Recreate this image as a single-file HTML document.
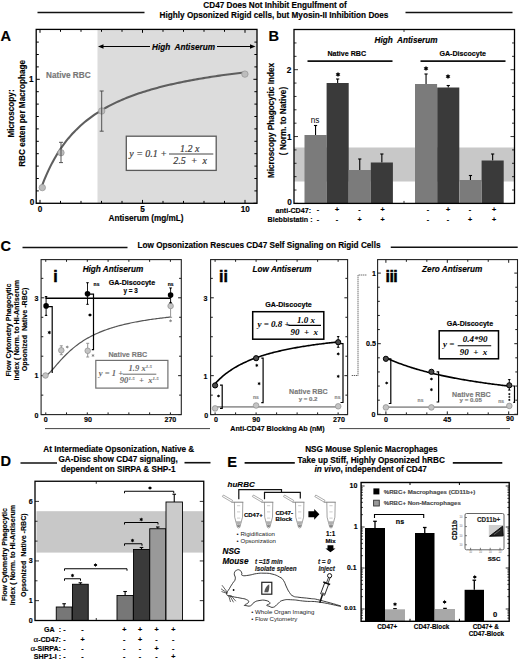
<!DOCTYPE html>
<html><head><meta charset="utf-8"><style>
html,body{margin:0;padding:0;background:#fff;width:520px;height:660px;overflow:hidden;font-family:"Liberation Sans",sans-serif;}
svg{display:block}
</style></head><body>
<svg width="520" height="660" viewBox="0 0 520 660">
<rect width="520" height="660" fill="#fff"/>
<text x="275.00" y="7.92" font-family="Liberation Sans" font-size="8.20" font-weight="bold" stroke="#000" stroke-width="0.15" fill="#000" text-anchor="middle">CD47 Does Not Inhibit Engulfment of</text>
<text x="274.00" y="17.62" font-family="Liberation Sans" font-size="8.20" font-weight="bold" stroke="#000" stroke-width="0.15" fill="#000" text-anchor="middle">Highly Opsonized Rigid cells, but Myosin-II Inhibition Does</text>
<line x1="37.50" y1="12.50" x2="144.50" y2="12.50" stroke="#111" stroke-width="1.60"/>
<line x1="405.50" y1="12.50" x2="512.50" y2="12.50" stroke="#111" stroke-width="1.60"/>
<text x="0.40" y="40.62" font-family="Liberation Sans" font-size="14.60" font-weight="bold" stroke="#000" stroke-width="0.15" fill="#000" text-anchor="start">A</text>
<rect x="97.50" y="29.40" width="159.50" height="173.90" fill="#dcdcdc" stroke="none" stroke-width="1.00"/>
<line x1="36.20" y1="203.30" x2="39.80" y2="203.30" stroke="#000" stroke-width="1.00"/>
<line x1="257.00" y1="203.30" x2="253.40" y2="203.30" stroke="#000" stroke-width="1.00"/>
<line x1="36.20" y1="190.90" x2="38.80" y2="190.90" stroke="#000" stroke-width="1.00"/>
<line x1="257.00" y1="190.90" x2="254.40" y2="190.90" stroke="#000" stroke-width="1.00"/>
<line x1="36.20" y1="178.50" x2="38.80" y2="178.50" stroke="#000" stroke-width="1.00"/>
<line x1="257.00" y1="178.50" x2="254.40" y2="178.50" stroke="#000" stroke-width="1.00"/>
<line x1="36.20" y1="166.10" x2="38.80" y2="166.10" stroke="#000" stroke-width="1.00"/>
<line x1="257.00" y1="166.10" x2="254.40" y2="166.10" stroke="#000" stroke-width="1.00"/>
<line x1="36.20" y1="153.70" x2="38.80" y2="153.70" stroke="#000" stroke-width="1.00"/>
<line x1="257.00" y1="153.70" x2="254.40" y2="153.70" stroke="#000" stroke-width="1.00"/>
<line x1="36.20" y1="141.30" x2="38.80" y2="141.30" stroke="#000" stroke-width="1.00"/>
<line x1="257.00" y1="141.30" x2="254.40" y2="141.30" stroke="#000" stroke-width="1.00"/>
<line x1="36.20" y1="128.90" x2="38.80" y2="128.90" stroke="#000" stroke-width="1.00"/>
<line x1="257.00" y1="128.90" x2="254.40" y2="128.90" stroke="#000" stroke-width="1.00"/>
<line x1="36.20" y1="116.50" x2="38.80" y2="116.50" stroke="#000" stroke-width="1.00"/>
<line x1="257.00" y1="116.50" x2="254.40" y2="116.50" stroke="#000" stroke-width="1.00"/>
<line x1="36.20" y1="104.10" x2="38.80" y2="104.10" stroke="#000" stroke-width="1.00"/>
<line x1="257.00" y1="104.10" x2="254.40" y2="104.10" stroke="#000" stroke-width="1.00"/>
<line x1="36.20" y1="91.70" x2="38.80" y2="91.70" stroke="#000" stroke-width="1.00"/>
<line x1="257.00" y1="91.70" x2="254.40" y2="91.70" stroke="#000" stroke-width="1.00"/>
<line x1="36.20" y1="79.30" x2="39.80" y2="79.30" stroke="#000" stroke-width="1.00"/>
<line x1="257.00" y1="79.30" x2="253.40" y2="79.30" stroke="#000" stroke-width="1.00"/>
<line x1="36.20" y1="66.90" x2="38.80" y2="66.90" stroke="#000" stroke-width="1.00"/>
<line x1="257.00" y1="66.90" x2="254.40" y2="66.90" stroke="#000" stroke-width="1.00"/>
<line x1="36.20" y1="54.50" x2="38.80" y2="54.50" stroke="#000" stroke-width="1.00"/>
<line x1="257.00" y1="54.50" x2="254.40" y2="54.50" stroke="#000" stroke-width="1.00"/>
<line x1="36.20" y1="42.10" x2="38.80" y2="42.10" stroke="#000" stroke-width="1.00"/>
<line x1="257.00" y1="42.10" x2="254.40" y2="42.10" stroke="#000" stroke-width="1.00"/>
<line x1="40.00" y1="203.30" x2="40.00" y2="199.90" stroke="#000" stroke-width="1.00"/>
<line x1="40.00" y1="29.40" x2="40.00" y2="32.80" stroke="#000" stroke-width="1.00"/>
<line x1="60.50" y1="203.30" x2="60.50" y2="200.90" stroke="#000" stroke-width="1.00"/>
<line x1="60.50" y1="29.40" x2="60.50" y2="31.80" stroke="#000" stroke-width="1.00"/>
<line x1="81.00" y1="203.30" x2="81.00" y2="200.90" stroke="#000" stroke-width="1.00"/>
<line x1="81.00" y1="29.40" x2="81.00" y2="31.80" stroke="#000" stroke-width="1.00"/>
<line x1="101.50" y1="203.30" x2="101.50" y2="200.90" stroke="#000" stroke-width="1.00"/>
<line x1="101.50" y1="29.40" x2="101.50" y2="31.80" stroke="#000" stroke-width="1.00"/>
<line x1="122.00" y1="203.30" x2="122.00" y2="200.90" stroke="#000" stroke-width="1.00"/>
<line x1="122.00" y1="29.40" x2="122.00" y2="31.80" stroke="#000" stroke-width="1.00"/>
<line x1="142.50" y1="203.30" x2="142.50" y2="199.90" stroke="#000" stroke-width="1.00"/>
<line x1="142.50" y1="29.40" x2="142.50" y2="32.80" stroke="#000" stroke-width="1.00"/>
<line x1="163.00" y1="203.30" x2="163.00" y2="200.90" stroke="#000" stroke-width="1.00"/>
<line x1="163.00" y1="29.40" x2="163.00" y2="31.80" stroke="#000" stroke-width="1.00"/>
<line x1="183.50" y1="203.30" x2="183.50" y2="200.90" stroke="#000" stroke-width="1.00"/>
<line x1="183.50" y1="29.40" x2="183.50" y2="31.80" stroke="#000" stroke-width="1.00"/>
<line x1="204.00" y1="203.30" x2="204.00" y2="200.90" stroke="#000" stroke-width="1.00"/>
<line x1="204.00" y1="29.40" x2="204.00" y2="31.80" stroke="#000" stroke-width="1.00"/>
<line x1="224.50" y1="203.30" x2="224.50" y2="200.90" stroke="#000" stroke-width="1.00"/>
<line x1="224.50" y1="29.40" x2="224.50" y2="31.80" stroke="#000" stroke-width="1.00"/>
<line x1="245.00" y1="203.30" x2="245.00" y2="199.90" stroke="#000" stroke-width="1.00"/>
<line x1="245.00" y1="29.40" x2="245.00" y2="32.80" stroke="#000" stroke-width="1.00"/>
<path d="M42.05 185.68 L44.07 180.45 L46.09 175.60 L48.11 171.08 L50.13 166.85 L52.15 162.89 L54.17 159.18 L56.18 155.69 L58.20 152.40 L60.22 149.30 L62.24 146.37 L64.26 143.59 L66.28 140.96 L68.30 138.46 L70.32 136.09 L72.34 133.83 L74.36 131.68 L76.38 129.63 L78.40 127.67 L80.42 125.79 L82.44 124.00 L84.45 122.28 L86.47 120.64 L88.49 119.06 L90.51 117.54 L92.53 116.08 L94.55 114.68 L96.57 113.33 L98.59 112.03 L100.61 110.78 L102.63 109.57 L104.65 108.40 L106.67 107.27 L108.69 106.18 L110.70 105.13 L112.72 104.11 L114.74 103.13 L116.76 102.17 L118.78 101.25 L120.80 100.35 L122.82 99.48 L124.84 98.64 L126.86 97.82 L128.88 97.02 L130.90 96.25 L132.92 95.50 L134.94 94.77 L136.95 94.06 L138.97 93.36 L140.99 92.69 L143.01 92.04 L145.03 91.40 L147.05 90.77 L149.07 90.17 L151.09 89.58 L153.11 89.00 L155.13 88.44 L157.15 87.89 L159.17 87.35 L161.19 86.83 L163.20 86.31 L165.22 85.81 L167.24 85.32 L169.26 84.85 L171.28 84.38 L173.30 83.92 L175.32 83.47 L177.34 83.04 L179.36 82.61 L181.38 82.19 L183.40 81.78 L185.42 81.38 L187.44 80.98 L189.46 80.60 L191.47 80.22 L193.49 79.85 L195.51 79.48 L197.53 79.13 L199.55 78.78 L201.57 78.43 L203.59 78.10 L205.61 77.77 L207.63 77.44 L209.65 77.12 L211.67 76.81 L213.69 76.50 L215.71 76.20 L217.72 75.90 L219.74 75.61 L221.76 75.33 L223.78 75.05 L225.80 74.77 L227.82 74.50 L229.84 74.23 L231.86 73.97 L233.88 73.71 L235.90 73.46 L237.92 73.21 L239.94 72.96 L241.96 72.72 L243.97 72.48" stroke="#5e5e5e" stroke-width="2.10" fill="none"/>
<circle cx="42.30" cy="187.60" r="3.20" fill="#bdbdbd" stroke="#9a9a9a" stroke-width="0.80"/>
<circle cx="61.00" cy="152.70" r="3.20" fill="#bdbdbd" stroke="#9a9a9a" stroke-width="0.80"/>
<line x1="61.00" y1="142.30" x2="61.00" y2="162.60" stroke="#444" stroke-width="0.90"/>
<line x1="59.00" y1="142.30" x2="63.00" y2="142.30" stroke="#444" stroke-width="0.90"/>
<line x1="59.00" y1="162.60" x2="63.00" y2="162.60" stroke="#444" stroke-width="0.90"/>
<circle cx="101.70" cy="111.00" r="3.20" fill="#bdbdbd" stroke="#9a9a9a" stroke-width="0.80"/>
<line x1="101.70" y1="91.00" x2="101.70" y2="131.20" stroke="#444" stroke-width="0.90"/>
<line x1="99.70" y1="91.00" x2="103.70" y2="91.00" stroke="#444" stroke-width="0.90"/>
<line x1="99.70" y1="131.20" x2="103.70" y2="131.20" stroke="#444" stroke-width="0.90"/>
<circle cx="244.90" cy="74.10" r="3.20" fill="#bdbdbd" stroke="#9a9a9a" stroke-width="0.80"/>
<rect x="36.20" y="29.40" width="220.80" height="173.90" fill="none" stroke="#000" stroke-width="1.30"/>
<text x="31.20" y="82.32" font-family="Liberation Sans" font-size="8.20" font-weight="bold" stroke="#000" stroke-width="0.15" fill="#000" text-anchor="middle">1</text>
<text x="32.00" y="205.12" font-family="Liberation Sans" font-size="8.20" font-weight="bold" stroke="#000" stroke-width="0.15" fill="#000" text-anchor="middle">0</text>
<text x="40.00" y="211.82" font-family="Liberation Sans" font-size="8.20" font-weight="bold" stroke="#000" stroke-width="0.15" fill="#000" text-anchor="middle">0</text>
<text x="142.50" y="211.82" font-family="Liberation Sans" font-size="8.20" font-weight="bold" stroke="#000" stroke-width="0.15" fill="#000" text-anchor="middle">5</text>
<text x="245.20" y="211.82" font-family="Liberation Sans" font-size="8.20" font-weight="bold" stroke="#000" stroke-width="0.15" fill="#000" text-anchor="middle">10</text>
<text x="146.00" y="220.52" font-family="Liberation Sans" font-size="8.20" font-weight="bold" stroke="#000" stroke-width="0.15" fill="#000" text-anchor="middle">Antiserum (mg/mL)</text>
<text x="46.00" y="77.82" font-family="Liberation Sans" font-size="8.20" font-weight="bold" stroke="#777" stroke-width="0.15" fill="#777" text-anchor="start">Native RBC</text>
<text x="183.50" y="49.82" font-family="Liberation Sans" font-size="8.20" font-weight="bold" font-style="italic" stroke="#000" stroke-width="0.15" fill="#000" text-anchor="middle">High&#160; Antiserum</text>
<line x1="99.00" y1="46.50" x2="150.00" y2="46.50" stroke="#000" stroke-width="1.20"/>
<line x1="217.00" y1="46.50" x2="254.00" y2="46.50" stroke="#000" stroke-width="1.20"/>
<path d="M98 46.5 L103.5 44.2 L103.5 48.8 Z" stroke="none" stroke-width="0.00" fill="#000"/>
<path d="M255.5 46.5 L250 44.2 L250 48.8 Z" stroke="none" stroke-width="0.00" fill="#000"/>
<rect x="126.30" y="136.20" width="89.90" height="34.20" fill="#fff" stroke="#5a5a5a" stroke-width="1.30"/>
<text x="129.2" y="157" font-size="10" font-family="Liberation Serif" font-style="italic" fill="#3a3a3a" stroke="#3a3a3a" stroke-width="0.2">y = 0.1 +</text>
<line x1="169.00" y1="154.00" x2="213.30" y2="154.00" stroke="#444" stroke-width="1.00"/>
<text x="189.7" y="152" font-size="10" text-anchor="middle" font-family="Liberation Serif" font-style="italic" fill="#3a3a3a" stroke="#3a3a3a" stroke-width="0.2">1.2 x</text>
<text x="190.2" y="164.2" font-size="10" text-anchor="middle" font-family="Liberation Serif" font-style="italic" fill="#3a3a3a" stroke="#3a3a3a" stroke-width="0.2">2.5&#160;&#160;+&#160;&#160;x</text>
<text x="0" y="0" transform="translate(13.72 113.50) rotate(-90)" font-family="Liberation Sans" font-size="8.20" font-weight="bold" stroke="#000" stroke-width="0.15" fill="#000" text-anchor="middle">Microscopy:</text>
<text x="0" y="0" transform="translate(24.62 113.40) rotate(-90)" font-family="Liberation Sans" font-size="8.20" font-weight="bold" stroke="#000" stroke-width="0.15" fill="#000" text-anchor="middle">RBC eaten per Macrophage</text>
<text x="268.60" y="40.62" font-family="Liberation Sans" font-size="14.60" font-weight="bold" stroke="#000" stroke-width="0.15" fill="#000" text-anchor="start">B</text>
<rect x="294.00" y="147.50" width="220.50" height="34.00" fill="#c8c8c8" stroke="none" stroke-width="1.00"/>
<line x1="315.55" y1="135.00" x2="315.55" y2="125.50" stroke="#000" stroke-width="1.10"/>
<line x1="313.95" y1="125.50" x2="317.15" y2="125.50" stroke="#000" stroke-width="1.10"/>
<rect x="304.50" y="135.00" width="22.10" height="68.40" fill="#7b7b7b" stroke="none" stroke-width="1.00"/>
<line x1="337.65" y1="83.00" x2="337.65" y2="79.00" stroke="#000" stroke-width="1.10"/>
<line x1="336.05" y1="79.00" x2="339.25" y2="79.00" stroke="#000" stroke-width="1.10"/>
<rect x="326.60" y="83.00" width="22.10" height="120.40" fill="#3a3a3a" stroke="none" stroke-width="1.00"/>
<line x1="359.75" y1="170.00" x2="359.75" y2="159.00" stroke="#000" stroke-width="1.10"/>
<line x1="358.15" y1="159.00" x2="361.35" y2="159.00" stroke="#000" stroke-width="1.10"/>
<rect x="348.70" y="170.00" width="22.10" height="33.40" fill="#7b7b7b" stroke="none" stroke-width="1.00"/>
<line x1="381.85" y1="162.50" x2="381.85" y2="154.00" stroke="#000" stroke-width="1.10"/>
<line x1="380.25" y1="154.00" x2="383.45" y2="154.00" stroke="#000" stroke-width="1.10"/>
<rect x="370.80" y="162.50" width="22.10" height="40.90" fill="#3a3a3a" stroke="none" stroke-width="1.00"/>
<line x1="426.05" y1="84.00" x2="426.05" y2="74.00" stroke="#000" stroke-width="1.10"/>
<line x1="424.45" y1="74.00" x2="427.65" y2="74.00" stroke="#000" stroke-width="1.10"/>
<rect x="415.00" y="84.00" width="22.10" height="119.40" fill="#7b7b7b" stroke="none" stroke-width="1.00"/>
<line x1="448.25" y1="87.50" x2="448.25" y2="85.50" stroke="#000" stroke-width="1.10"/>
<line x1="446.65" y1="85.50" x2="449.85" y2="85.50" stroke="#000" stroke-width="1.10"/>
<rect x="437.20" y="87.50" width="22.10" height="115.90" fill="#3a3a3a" stroke="none" stroke-width="1.00"/>
<line x1="470.45" y1="180.00" x2="470.45" y2="175.50" stroke="#000" stroke-width="1.10"/>
<line x1="468.85" y1="175.50" x2="472.05" y2="175.50" stroke="#000" stroke-width="1.10"/>
<rect x="459.40" y="180.00" width="22.10" height="23.40" fill="#7b7b7b" stroke="none" stroke-width="1.00"/>
<line x1="492.65" y1="160.50" x2="492.65" y2="154.00" stroke="#000" stroke-width="1.10"/>
<line x1="491.05" y1="154.00" x2="494.25" y2="154.00" stroke="#000" stroke-width="1.10"/>
<rect x="481.60" y="160.50" width="22.10" height="42.90" fill="#3a3a3a" stroke="none" stroke-width="1.00"/>
<line x1="294.00" y1="203.40" x2="298.00" y2="203.40" stroke="#000" stroke-width="0.80"/>
<line x1="514.50" y1="203.40" x2="510.50" y2="203.40" stroke="#000" stroke-width="0.80"/>
<line x1="294.00" y1="190.03" x2="296.50" y2="190.03" stroke="#000" stroke-width="0.80"/>
<line x1="514.50" y1="190.03" x2="512.00" y2="190.03" stroke="#000" stroke-width="0.80"/>
<line x1="294.00" y1="176.66" x2="296.50" y2="176.66" stroke="#000" stroke-width="0.80"/>
<line x1="514.50" y1="176.66" x2="512.00" y2="176.66" stroke="#000" stroke-width="0.80"/>
<line x1="294.00" y1="163.29" x2="296.50" y2="163.29" stroke="#000" stroke-width="0.80"/>
<line x1="514.50" y1="163.29" x2="512.00" y2="163.29" stroke="#000" stroke-width="0.80"/>
<line x1="294.00" y1="149.92" x2="296.50" y2="149.92" stroke="#000" stroke-width="0.80"/>
<line x1="514.50" y1="149.92" x2="512.00" y2="149.92" stroke="#000" stroke-width="0.80"/>
<line x1="294.00" y1="136.55" x2="298.00" y2="136.55" stroke="#000" stroke-width="0.80"/>
<line x1="514.50" y1="136.55" x2="510.50" y2="136.55" stroke="#000" stroke-width="0.80"/>
<line x1="294.00" y1="123.18" x2="296.50" y2="123.18" stroke="#000" stroke-width="0.80"/>
<line x1="514.50" y1="123.18" x2="512.00" y2="123.18" stroke="#000" stroke-width="0.80"/>
<line x1="294.00" y1="109.81" x2="296.50" y2="109.81" stroke="#000" stroke-width="0.80"/>
<line x1="514.50" y1="109.81" x2="512.00" y2="109.81" stroke="#000" stroke-width="0.80"/>
<line x1="294.00" y1="96.44" x2="296.50" y2="96.44" stroke="#000" stroke-width="0.80"/>
<line x1="514.50" y1="96.44" x2="512.00" y2="96.44" stroke="#000" stroke-width="0.80"/>
<line x1="294.00" y1="83.07" x2="296.50" y2="83.07" stroke="#000" stroke-width="0.80"/>
<line x1="514.50" y1="83.07" x2="512.00" y2="83.07" stroke="#000" stroke-width="0.80"/>
<line x1="294.00" y1="69.70" x2="298.00" y2="69.70" stroke="#000" stroke-width="0.80"/>
<line x1="514.50" y1="69.70" x2="510.50" y2="69.70" stroke="#000" stroke-width="0.80"/>
<line x1="294.00" y1="56.33" x2="296.50" y2="56.33" stroke="#000" stroke-width="0.80"/>
<line x1="514.50" y1="56.33" x2="512.00" y2="56.33" stroke="#000" stroke-width="0.80"/>
<line x1="294.00" y1="42.96" x2="296.50" y2="42.96" stroke="#000" stroke-width="0.80"/>
<line x1="514.50" y1="42.96" x2="512.00" y2="42.96" stroke="#000" stroke-width="0.80"/>
<line x1="404.00" y1="203.40" x2="404.00" y2="200.90" stroke="#000" stroke-width="0.80"/>
<line x1="404.00" y1="29.50" x2="404.00" y2="32.00" stroke="#000" stroke-width="0.80"/>
<rect x="294.00" y="29.50" width="220.50" height="173.90" fill="none" stroke="#000" stroke-width="1.30"/>
<text x="315.00" y="123.32" font-family="Liberation Sans" font-size="8.20" font-weight="normal" fill="#000" text-anchor="middle">ns</text>
<path d="M338.00 71.78 L338.71 73.28 L340.36 73.14 L339.41 74.50 L340.36 75.86 L338.71 75.72 L338.00 77.22 L337.29 75.72 L335.64 75.86 L336.59 74.50 L335.64 73.14 L337.29 73.28 Z" fill="#000"/>
<path d="M426.00 65.78 L426.71 67.28 L428.36 67.14 L427.41 68.50 L428.36 69.86 L426.71 69.72 L426.00 71.22 L425.29 69.72 L423.64 69.86 L424.59 68.50 L423.64 67.14 L425.29 67.28 Z" fill="#000"/>
<path d="M448.00 73.78 L448.71 75.28 L450.36 75.14 L449.41 76.50 L450.36 77.86 L448.71 77.72 L448.00 79.22 L447.29 77.72 L445.64 77.86 L446.59 76.50 L445.64 75.14 L447.29 75.28 Z" fill="#000"/>
<text x="289.50" y="205.32" font-family="Liberation Sans" font-size="8.20" font-weight="bold" stroke="#000" stroke-width="0.15" fill="#000" text-anchor="middle">0</text>
<text x="289.30" y="140.02" font-family="Liberation Sans" font-size="8.20" font-weight="bold" stroke="#000" stroke-width="0.15" fill="#000" text-anchor="middle">1</text>
<text x="289.00" y="72.82" font-family="Liberation Sans" font-size="8.20" font-weight="bold" stroke="#000" stroke-width="0.15" fill="#000" text-anchor="middle">2</text>
<text x="406.00" y="42.82" font-family="Liberation Sans" font-size="8.20" font-weight="bold" font-style="italic" stroke="#000" stroke-width="0.15" fill="#000" text-anchor="middle">High&#160; Antiserum</text>
<text x="346.70" y="56.44" font-family="Liberation Sans" font-size="7.10" font-weight="bold" stroke="#000" stroke-width="0.15" fill="#000" text-anchor="middle">Native RBC</text>
<line x1="307.50" y1="61.20" x2="392.50" y2="61.20" stroke="#111" stroke-width="1.70"/>
<text x="462.70" y="56.44" font-family="Liberation Sans" font-size="7.10" font-weight="bold" stroke="#000" stroke-width="0.15" fill="#000" text-anchor="middle">GA-Discocyte</text>
<line x1="420.50" y1="61.20" x2="505.50" y2="61.20" stroke="#111" stroke-width="1.70"/>
<text x="0" y="0" transform="translate(274.12 120.50) rotate(-90)" font-family="Liberation Sans" font-size="8.20" font-weight="bold" stroke="#000" stroke-width="0.15" fill="#000" text-anchor="middle">Microscopy Phagocytic Index</text>
<text x="0" y="0" transform="translate(286.22 121.00) rotate(-90)" font-family="Liberation Sans" font-size="8.20" font-weight="bold" stroke="#000" stroke-width="0.15" fill="#000" text-anchor="middle">( Norm. to Native)</text>
<text x="311.00" y="212.94" font-family="Liberation Sans" font-size="7.10" font-weight="bold" stroke="#000" stroke-width="0.15" fill="#000" text-anchor="end">anti-CD47:</text>
<text x="312.50" y="222.24" font-family="Liberation Sans" font-size="7.10" font-weight="bold" stroke="#000" stroke-width="0.15" fill="#000" text-anchor="end">Blebbistatin :</text>
<text x="318.00" y="212.24" font-family="Liberation Sans" font-size="7.10" font-weight="bold" stroke="#000" stroke-width="0.15" fill="#000" text-anchor="middle">-</text>
<text x="318.00" y="222.24" font-family="Liberation Sans" font-size="7.10" font-weight="bold" stroke="#000" stroke-width="0.15" fill="#000" text-anchor="middle">-</text>
<text x="337.00" y="212.24" font-family="Liberation Sans" font-size="7.10" font-weight="bold" stroke="#000" stroke-width="0.15" fill="#000" text-anchor="middle">+</text>
<text x="337.00" y="222.24" font-family="Liberation Sans" font-size="7.10" font-weight="bold" stroke="#000" stroke-width="0.15" fill="#000" text-anchor="middle">-</text>
<text x="359.50" y="212.24" font-family="Liberation Sans" font-size="7.10" font-weight="bold" stroke="#000" stroke-width="0.15" fill="#000" text-anchor="middle">-</text>
<text x="359.50" y="222.24" font-family="Liberation Sans" font-size="7.10" font-weight="bold" stroke="#000" stroke-width="0.15" fill="#000" text-anchor="middle">+</text>
<text x="382.50" y="212.24" font-family="Liberation Sans" font-size="7.10" font-weight="bold" stroke="#000" stroke-width="0.15" fill="#000" text-anchor="middle">+</text>
<text x="382.50" y="222.24" font-family="Liberation Sans" font-size="7.10" font-weight="bold" stroke="#000" stroke-width="0.15" fill="#000" text-anchor="middle">+</text>
<text x="428.00" y="212.24" font-family="Liberation Sans" font-size="7.10" font-weight="bold" stroke="#000" stroke-width="0.15" fill="#000" text-anchor="middle">-</text>
<text x="428.00" y="222.24" font-family="Liberation Sans" font-size="7.10" font-weight="bold" stroke="#000" stroke-width="0.15" fill="#000" text-anchor="middle">-</text>
<text x="448.00" y="212.24" font-family="Liberation Sans" font-size="7.10" font-weight="bold" stroke="#000" stroke-width="0.15" fill="#000" text-anchor="middle">+</text>
<text x="448.00" y="222.24" font-family="Liberation Sans" font-size="7.10" font-weight="bold" stroke="#000" stroke-width="0.15" fill="#000" text-anchor="middle">-</text>
<text x="470.00" y="212.24" font-family="Liberation Sans" font-size="7.10" font-weight="bold" stroke="#000" stroke-width="0.15" fill="#000" text-anchor="middle">-</text>
<text x="470.00" y="222.24" font-family="Liberation Sans" font-size="7.10" font-weight="bold" stroke="#000" stroke-width="0.15" fill="#000" text-anchor="middle">+</text>
<text x="494.00" y="212.24" font-family="Liberation Sans" font-size="7.10" font-weight="bold" stroke="#000" stroke-width="0.15" fill="#000" text-anchor="middle">+</text>
<text x="494.00" y="222.24" font-family="Liberation Sans" font-size="7.10" font-weight="bold" stroke="#000" stroke-width="0.15" fill="#000" text-anchor="middle">+</text>
<text x="0.40" y="251.32" font-family="Liberation Sans" font-size="14.60" font-weight="bold" stroke="#000" stroke-width="0.15" fill="#000" text-anchor="start">C</text>
<text x="259.00" y="248.32" font-family="Liberation Sans" font-size="8.20" font-weight="bold" stroke="#000" stroke-width="0.15" fill="#000" text-anchor="middle">Low Opsonization Rescues CD47 Self Signaling on Rigid Cells</text>
<line x1="22.50" y1="247.50" x2="127.50" y2="247.50" stroke="#111" stroke-width="1.60"/>
<line x1="390.75" y1="247.30" x2="517.70" y2="247.30" stroke="#111" stroke-width="1.60"/>
<text x="0" y="0" transform="translate(10.94 330.00) rotate(-90)" font-family="Liberation Sans" font-size="7.10" font-weight="bold" stroke="#000" stroke-width="0.15" fill="#000" text-anchor="middle">Flow Cytometry Phagocytic</text>
<text x="0" y="0" transform="translate(19.14 330.20) rotate(-90)" font-family="Liberation Sans" font-size="7.10" font-weight="bold" stroke="#000" stroke-width="0.15" fill="#000" text-anchor="middle">Index ( Norm. to Hi-Antiserum</text>
<text x="0" y="0" transform="translate(27.44 329.50) rotate(-90)" font-family="Liberation Sans" font-size="7.10" font-weight="bold" stroke="#000" stroke-width="0.15" fill="#000" text-anchor="middle">Opsonized&#160; Native -RBC)</text>
<line x1="45.00" y1="428.60" x2="210.00" y2="428.60" stroke="#444" stroke-width="1.00"/>
<line x1="339.40" y1="428.60" x2="510.00" y2="428.60" stroke="#444" stroke-width="1.00"/>
<text x="277.50" y="430.94" font-family="Liberation Sans" font-size="7.10" font-weight="bold" stroke="#000" stroke-width="0.15" fill="#000" text-anchor="middle">Anti-CD47 Blocking Ab (nM)</text>
<line x1="41.10" y1="414.60" x2="44.30" y2="414.60" stroke="#000" stroke-width="0.90"/>
<line x1="181.30" y1="414.60" x2="178.10" y2="414.60" stroke="#000" stroke-width="0.90"/>
<line x1="41.10" y1="395.14" x2="43.30" y2="395.14" stroke="#000" stroke-width="0.90"/>
<line x1="181.30" y1="395.14" x2="179.10" y2="395.14" stroke="#000" stroke-width="0.90"/>
<line x1="41.10" y1="375.67" x2="44.30" y2="375.67" stroke="#000" stroke-width="0.90"/>
<line x1="181.30" y1="375.67" x2="178.10" y2="375.67" stroke="#000" stroke-width="0.90"/>
<line x1="41.10" y1="356.21" x2="43.30" y2="356.21" stroke="#000" stroke-width="0.90"/>
<line x1="181.30" y1="356.21" x2="179.10" y2="356.21" stroke="#000" stroke-width="0.90"/>
<line x1="41.10" y1="336.74" x2="43.30" y2="336.74" stroke="#000" stroke-width="0.90"/>
<line x1="181.30" y1="336.74" x2="179.10" y2="336.74" stroke="#000" stroke-width="0.90"/>
<line x1="41.10" y1="317.28" x2="43.30" y2="317.28" stroke="#000" stroke-width="0.90"/>
<line x1="181.30" y1="317.28" x2="179.10" y2="317.28" stroke="#000" stroke-width="0.90"/>
<line x1="41.10" y1="297.81" x2="44.30" y2="297.81" stroke="#000" stroke-width="0.90"/>
<line x1="181.30" y1="297.81" x2="178.10" y2="297.81" stroke="#000" stroke-width="0.90"/>
<line x1="41.10" y1="278.35" x2="43.30" y2="278.35" stroke="#000" stroke-width="0.90"/>
<line x1="181.30" y1="278.35" x2="179.10" y2="278.35" stroke="#000" stroke-width="0.90"/>
<line x1="45.75" y1="414.60" x2="45.75" y2="412.40" stroke="#000" stroke-width="0.90"/>
<line x1="45.75" y1="259.60" x2="45.75" y2="261.80" stroke="#000" stroke-width="0.90"/>
<line x1="66.53" y1="414.60" x2="66.53" y2="412.40" stroke="#000" stroke-width="0.90"/>
<line x1="66.53" y1="259.60" x2="66.53" y2="261.80" stroke="#000" stroke-width="0.90"/>
<line x1="87.30" y1="414.60" x2="87.30" y2="412.40" stroke="#000" stroke-width="0.90"/>
<line x1="87.30" y1="259.60" x2="87.30" y2="261.80" stroke="#000" stroke-width="0.90"/>
<line x1="108.08" y1="414.60" x2="108.08" y2="412.40" stroke="#000" stroke-width="0.90"/>
<line x1="108.08" y1="259.60" x2="108.08" y2="261.80" stroke="#000" stroke-width="0.90"/>
<line x1="128.86" y1="414.60" x2="128.86" y2="412.40" stroke="#000" stroke-width="0.90"/>
<line x1="128.86" y1="259.60" x2="128.86" y2="261.80" stroke="#000" stroke-width="0.90"/>
<line x1="149.63" y1="414.60" x2="149.63" y2="412.40" stroke="#000" stroke-width="0.90"/>
<line x1="149.63" y1="259.60" x2="149.63" y2="261.80" stroke="#000" stroke-width="0.90"/>
<line x1="170.41" y1="414.60" x2="170.41" y2="412.40" stroke="#000" stroke-width="0.90"/>
<line x1="170.41" y1="259.60" x2="170.41" y2="261.80" stroke="#000" stroke-width="0.90"/>
<line x1="45.50" y1="298.30" x2="170.40" y2="298.30" stroke="#000" stroke-width="1.60"/>
<path d="M45.75 375.67 L47.00 375.01 L48.24 373.99 L49.49 372.80 L50.74 371.50 L51.98 370.14 L53.23 368.73 L54.48 367.30 L55.72 365.86 L56.97 364.43 L58.22 363.00 L59.46 361.60 L60.71 360.22 L61.96 358.86 L63.20 357.53 L64.45 356.24 L65.70 354.98 L66.94 353.75 L68.19 352.56 L69.44 351.41 L70.68 350.29 L71.93 349.20 L73.17 348.14 L74.42 347.12 L75.67 346.14 L76.91 345.18 L78.16 344.26 L79.41 343.36 L80.65 342.50 L81.90 341.66 L83.15 340.85 L84.39 340.06 L85.64 339.31 L86.89 338.57 L88.13 337.86 L89.38 337.17 L90.63 336.51 L91.87 335.86 L93.12 335.24 L94.37 334.63 L95.61 334.05 L96.86 333.48 L98.11 332.93 L99.35 332.40 L100.60 331.88 L101.85 331.38 L103.09 330.89 L104.34 330.42 L105.59 329.96 L106.83 329.51 L108.08 329.08 L109.33 328.66 L110.57 328.25 L111.82 327.86 L113.07 327.47 L114.31 327.09 L115.56 326.73 L116.81 326.37 L118.05 326.03 L119.30 325.69 L120.55 325.36 L121.79 325.05 L123.04 324.74 L124.29 324.43 L125.53 324.14 L126.78 323.85 L128.02 323.57 L129.27 323.30 L130.52 323.03 L131.76 322.77 L133.01 322.52 L134.26 322.27 L135.50 322.03 L136.75 321.79 L138.00 321.56 L139.24 321.34 L140.49 321.12 L141.74 320.90 L142.98 320.69 L144.23 320.49 L145.48 320.29 L146.72 320.09 L147.97 319.90 L149.22 319.71 L150.46 319.53 L151.71 319.35 L152.96 319.17 L154.20 319.00 L155.45 318.83 L156.70 318.67 L157.94 318.50 L159.19 318.35 L160.44 318.19 L161.68 318.04 L162.93 317.89 L164.18 317.74 L165.42 317.60 L166.67 317.46 L167.92 317.32 L169.16 317.19 L170.41 317.06" stroke="#555" stroke-width="1.20" fill="none"/>
<circle cx="45.50" cy="375.50" r="2.80" fill="#c4c4c4" stroke="#8e8e8e" stroke-width="0.70"/>
<line x1="61.30" y1="345.80" x2="61.30" y2="354.70" stroke="#8a8a8a" stroke-width="0.90"/>
<line x1="59.80" y1="345.80" x2="62.80" y2="345.80" stroke="#8a8a8a" stroke-width="0.90"/>
<line x1="59.80" y1="354.70" x2="62.80" y2="354.70" stroke="#8a8a8a" stroke-width="0.90"/>
<circle cx="61.30" cy="350.30" r="2.80" fill="#c4c4c4" stroke="#8e8e8e" stroke-width="0.70"/>
<line x1="87.70" y1="343.30" x2="87.70" y2="357.00" stroke="#8a8a8a" stroke-width="0.90"/>
<line x1="86.20" y1="343.30" x2="89.20" y2="343.30" stroke="#8a8a8a" stroke-width="0.90"/>
<line x1="86.20" y1="357.00" x2="89.20" y2="357.00" stroke="#8a8a8a" stroke-width="0.90"/>
<circle cx="87.70" cy="350.80" r="2.80" fill="#c4c4c4" stroke="#8e8e8e" stroke-width="0.70"/>
<line x1="170.60" y1="302.90" x2="170.60" y2="317.30" stroke="#8a8a8a" stroke-width="0.90"/>
<line x1="169.10" y1="302.90" x2="172.10" y2="302.90" stroke="#8a8a8a" stroke-width="0.90"/>
<line x1="169.10" y1="317.30" x2="172.10" y2="317.30" stroke="#8a8a8a" stroke-width="0.90"/>
<circle cx="170.60" cy="306.00" r="2.80" fill="#c4c4c4" stroke="#8e8e8e" stroke-width="0.70"/>
<line x1="46.10" y1="296.30" x2="46.10" y2="315.80" stroke="#000" stroke-width="0.90"/>
<path d="M44.50 296.00 H47.70 L46.10 297.90 Z" stroke="none" stroke-width="0.00" fill="#000"/>
<path d="M44.50 316.10 H47.70 L46.10 314.20 Z" stroke="none" stroke-width="0.00" fill="#000"/>
<circle cx="46.10" cy="305.90" r="2.80" fill="#000" stroke="none" stroke-width="1.00"/>
<line x1="87.50" y1="282.60" x2="87.50" y2="304.50" stroke="#000" stroke-width="0.90"/>
<path d="M85.90 282.30 H89.10 L87.50 284.20 Z" stroke="none" stroke-width="0.00" fill="#000"/>
<path d="M85.90 304.80 H89.10 L87.50 302.90 Z" stroke="none" stroke-width="0.00" fill="#000"/>
<circle cx="87.50" cy="293.80" r="2.80" fill="#000" stroke="none" stroke-width="1.00"/>
<line x1="170.60" y1="287.90" x2="170.60" y2="302.90" stroke="#000" stroke-width="0.90"/>
<path d="M169.00 287.60 H172.20 L170.60 289.50 Z" stroke="none" stroke-width="0.00" fill="#000"/>
<path d="M169.00 303.20 H172.20 L170.60 301.30 Z" stroke="none" stroke-width="0.00" fill="#000"/>
<circle cx="170.60" cy="295.10" r="2.80" fill="#000" stroke="none" stroke-width="1.00"/>
<path d="M46 306.6 H52.2 V373" stroke="#000" stroke-width="1.20" fill="none"/>
<path d="M88 294.2 H93.5 V349.7 H91.8" stroke="#000" stroke-width="1.20" fill="none"/>
<path d="M49.30 330.46 L49.83 331.58 L51.07 331.48 L50.36 332.50 L51.07 333.52 L49.83 333.42 L49.30 334.54 L48.77 333.42 L47.53 333.52 L48.24 332.50 L47.53 331.48 L48.77 331.58 Z" fill="#000"/>
<path d="M90.00 312.96 L90.53 314.08 L91.77 313.98 L91.06 315.00 L91.77 316.02 L90.53 315.92 L90.00 317.04 L89.47 315.92 L88.23 316.02 L88.94 315.00 L88.23 313.98 L89.47 314.08 Z" fill="#000"/>
<path d="M67.20 345.23 L67.66 346.20 L68.73 346.12 L68.12 347.00 L68.73 347.88 L67.66 347.80 L67.20 348.77 L66.74 347.80 L65.67 347.88 L66.28 347.00 L65.67 346.12 L66.74 346.20 Z" fill="#888"/>
<path d="M93.00 353.73 L93.46 354.70 L94.53 354.62 L93.92 355.50 L94.53 356.38 L93.46 356.30 L93.00 357.27 L92.54 356.30 L91.47 356.38 L92.08 355.50 L91.47 354.62 L92.54 354.70 Z" fill="#888"/>
<path d="M170.60 319.03 L171.06 320.00 L172.13 319.92 L171.52 320.80 L172.13 321.68 L171.06 321.60 L170.60 322.57 L170.14 321.60 L169.07 321.68 L169.68 320.80 L169.07 319.92 L170.14 320.00 Z" fill="#888"/>
<text x="96.50" y="285.52" font-family="Liberation Sans" font-size="5.00" font-weight="bold" stroke="#000" stroke-width="0.15" fill="#000" text-anchor="middle">ns</text>
<text x="170.60" y="285.52" font-family="Liberation Sans" font-size="5.00" font-weight="bold" stroke="#000" stroke-width="0.15" fill="#000" text-anchor="middle">ns</text>
<rect x="41.10" y="259.60" width="140.20" height="155.00" fill="none" stroke="#222" stroke-width="1.10"/>
<text x="53.30" y="282.00" font-family="Liberation Sans" font-size="16.00" font-weight="bold" fill="#000" text-anchor="start" stroke="#000" stroke-width="0.5">i</text>
<text x="113.00" y="272.32" font-family="Liberation Sans" font-size="8.20" font-weight="bold" font-style="italic" stroke="#000" stroke-width="0.15" fill="#000" text-anchor="middle">High Antiserum</text>
<text x="131.90" y="285.24" font-family="Liberation Sans" font-size="7.10" font-weight="bold" stroke="#000" stroke-width="0.15" fill="#000" text-anchor="middle">GA-Discocyte</text>
<text x="130.70" y="293.47" font-family="Liberation Sans" font-size="6.30" font-weight="bold" stroke="#000" stroke-width="0.15" fill="#000" text-anchor="middle">y = 3</text>
<text x="108.50" y="356.74" font-family="Liberation Sans" font-size="7.10" font-weight="bold" stroke="#7a7a7a" stroke-width="0.15" fill="#7a7a7a" text-anchor="start">Native RBC</text>
<text x="36.50" y="300.94" font-family="Liberation Sans" font-size="7.10" font-weight="bold" stroke="#000" stroke-width="0.15" fill="#000" text-anchor="middle">3</text>
<text x="36.50" y="378.24" font-family="Liberation Sans" font-size="7.10" font-weight="bold" stroke="#000" stroke-width="0.15" fill="#000" text-anchor="middle">1</text>
<text x="36.50" y="417.64" font-family="Liberation Sans" font-size="7.10" font-weight="bold" stroke="#000" stroke-width="0.15" fill="#000" text-anchor="middle">0</text>
<text x="45.75" y="421.94" font-family="Liberation Sans" font-size="7.10" font-weight="bold" stroke="#000" stroke-width="0.15" fill="#000" text-anchor="middle">0</text>
<text x="88.00" y="421.94" font-family="Liberation Sans" font-size="7.10" font-weight="bold" stroke="#000" stroke-width="0.15" fill="#000" text-anchor="middle">90</text>
<text x="170.40" y="421.94" font-family="Liberation Sans" font-size="7.10" font-weight="bold" stroke="#000" stroke-width="0.15" fill="#000" text-anchor="middle">270</text>
<rect x="95.80" y="360.40" width="72.10" height="27.70" fill="#fff" stroke="#707070" stroke-width="1.20"/>
<text x="98.7" y="376.3" font-size="8.6" font-family="Liberation Serif" font-style="italic" font-weight="bold" fill="#6a6a6a">y = 1 +</text>
<line x1="122.70" y1="374.20" x2="156.30" y2="374.20" stroke="#6a6a6a" stroke-width="1.00"/>
<text x="128.5" y="371.4" font-size="8.6" font-family="Liberation Serif" font-style="italic" font-weight="bold" fill="#6a6a6a">1.9 x<tspan font-size="5" dy="-3">1.5</tspan></text>
<text x="119.8" y="382.6" font-size="8.6" font-family="Liberation Serif" font-style="italic" font-weight="bold" fill="#6a6a6a">90<tspan font-size="5" dy="-3">1.5</tspan><tspan dy="3">&#160;&#160;+&#160;&#160;x</tspan><tspan font-size="5" dy="-3">1.5</tspan></text>
<line x1="210.60" y1="414.60" x2="213.80" y2="414.60" stroke="#000" stroke-width="0.90"/>
<line x1="347.60" y1="414.60" x2="344.40" y2="414.60" stroke="#000" stroke-width="0.90"/>
<line x1="210.60" y1="395.14" x2="212.80" y2="395.14" stroke="#000" stroke-width="0.90"/>
<line x1="347.60" y1="395.14" x2="345.40" y2="395.14" stroke="#000" stroke-width="0.90"/>
<line x1="210.60" y1="375.67" x2="213.80" y2="375.67" stroke="#000" stroke-width="0.90"/>
<line x1="347.60" y1="375.67" x2="344.40" y2="375.67" stroke="#000" stroke-width="0.90"/>
<line x1="210.60" y1="356.21" x2="212.80" y2="356.21" stroke="#000" stroke-width="0.90"/>
<line x1="347.60" y1="356.21" x2="345.40" y2="356.21" stroke="#000" stroke-width="0.90"/>
<line x1="210.60" y1="336.74" x2="212.80" y2="336.74" stroke="#000" stroke-width="0.90"/>
<line x1="347.60" y1="336.74" x2="345.40" y2="336.74" stroke="#000" stroke-width="0.90"/>
<line x1="210.60" y1="317.28" x2="212.80" y2="317.28" stroke="#000" stroke-width="0.90"/>
<line x1="347.60" y1="317.28" x2="345.40" y2="317.28" stroke="#000" stroke-width="0.90"/>
<line x1="210.60" y1="297.81" x2="213.80" y2="297.81" stroke="#000" stroke-width="0.90"/>
<line x1="347.60" y1="297.81" x2="344.40" y2="297.81" stroke="#000" stroke-width="0.90"/>
<line x1="210.60" y1="278.35" x2="212.80" y2="278.35" stroke="#000" stroke-width="0.90"/>
<line x1="347.60" y1="278.35" x2="345.40" y2="278.35" stroke="#000" stroke-width="0.90"/>
<line x1="215.10" y1="414.60" x2="215.10" y2="412.40" stroke="#000" stroke-width="0.90"/>
<line x1="215.10" y1="259.60" x2="215.10" y2="261.80" stroke="#000" stroke-width="0.90"/>
<line x1="235.60" y1="414.60" x2="235.60" y2="412.40" stroke="#000" stroke-width="0.90"/>
<line x1="235.60" y1="259.60" x2="235.60" y2="261.80" stroke="#000" stroke-width="0.90"/>
<line x1="256.10" y1="414.60" x2="256.10" y2="412.40" stroke="#000" stroke-width="0.90"/>
<line x1="256.10" y1="259.60" x2="256.10" y2="261.80" stroke="#000" stroke-width="0.90"/>
<line x1="276.61" y1="414.60" x2="276.61" y2="412.40" stroke="#000" stroke-width="0.90"/>
<line x1="276.61" y1="259.60" x2="276.61" y2="261.80" stroke="#000" stroke-width="0.90"/>
<line x1="297.11" y1="414.60" x2="297.11" y2="412.40" stroke="#000" stroke-width="0.90"/>
<line x1="297.11" y1="259.60" x2="297.11" y2="261.80" stroke="#000" stroke-width="0.90"/>
<line x1="317.61" y1="414.60" x2="317.61" y2="412.40" stroke="#000" stroke-width="0.90"/>
<line x1="317.61" y1="259.60" x2="317.61" y2="261.80" stroke="#000" stroke-width="0.90"/>
<line x1="338.11" y1="414.60" x2="338.11" y2="412.40" stroke="#000" stroke-width="0.90"/>
<line x1="338.11" y1="259.60" x2="338.11" y2="261.80" stroke="#000" stroke-width="0.90"/>
<line x1="215.10" y1="406.90" x2="338.11" y2="406.90" stroke="#9a9a9a" stroke-width="1.80"/>
<path d="M215.10 383.68 L216.33 382.35 L217.56 381.07 L218.79 379.85 L220.02 378.68 L221.25 377.55 L222.48 376.47 L223.71 375.44 L224.94 374.44 L226.17 373.48 L227.40 372.56 L228.63 371.67 L229.86 370.81 L231.09 369.98 L232.32 369.18 L233.55 368.41 L234.78 367.66 L236.01 366.94 L237.24 366.24 L238.47 365.56 L239.70 364.91 L240.93 364.27 L242.16 363.66 L243.39 363.06 L244.62 362.48 L245.85 361.91 L247.08 361.37 L248.31 360.83 L249.54 360.32 L250.77 359.81 L252.00 359.32 L253.23 358.85 L254.46 358.38 L255.69 357.93 L256.92 357.49 L258.15 357.06 L259.38 356.64 L260.61 356.23 L261.84 355.84 L263.07 355.45 L264.30 355.07 L265.53 354.70 L266.77 354.33 L268.00 353.98 L269.23 353.64 L270.46 353.30 L271.69 352.97 L272.92 352.64 L274.15 352.33 L275.38 352.02 L276.61 351.72 L277.84 351.42 L279.07 351.13 L280.30 350.85 L281.53 350.57 L282.76 350.29 L283.99 350.03 L285.22 349.76 L286.45 349.51 L287.68 349.26 L288.91 349.01 L290.14 348.77 L291.37 348.53 L292.60 348.30 L293.83 348.07 L295.06 347.84 L296.29 347.62 L297.52 347.40 L298.75 347.19 L299.98 346.98 L301.21 346.78 L302.44 346.57 L303.67 346.38 L304.90 346.18 L306.13 345.99 L307.36 345.80 L308.59 345.62 L309.82 345.43 L311.05 345.25 L312.28 345.08 L313.51 344.90 L314.74 344.73 L315.97 344.56 L317.20 344.40 L318.43 344.24 L319.66 344.08 L320.89 343.92 L322.12 343.76 L323.35 343.61 L324.58 343.46 L325.81 343.31 L327.04 343.16 L328.27 343.02 L329.50 342.88 L330.73 342.74 L331.96 342.60 L333.19 342.46 L334.42 342.33 L335.65 342.20 L336.88 342.07 L338.11 341.94" stroke="#000" stroke-width="1.60" fill="none"/>
<circle cx="215.10" cy="408.40" r="2.80" fill="#c4c4c4" stroke="#8e8e8e" stroke-width="0.70"/>
<circle cx="256.10" cy="405.50" r="2.80" fill="#c4c4c4" stroke="#8e8e8e" stroke-width="0.70"/>
<circle cx="338.20" cy="406.30" r="2.80" fill="#c4c4c4" stroke="#8e8e8e" stroke-width="0.70"/>
<circle cx="215.10" cy="385.40" r="2.60" fill="#4a4a4a" stroke="#000" stroke-width="1.00"/>
<circle cx="256.10" cy="358.20" r="2.60" fill="#4a4a4a" stroke="#000" stroke-width="1.00"/>
<line x1="338.20" y1="336.20" x2="338.20" y2="347.50" stroke="#000" stroke-width="0.90"/>
<path d="M336.60 335.90 H339.80 L338.20 337.80 Z" stroke="none" stroke-width="0.00" fill="#000"/>
<path d="M336.60 347.80 H339.80 L338.20 345.90 Z" stroke="none" stroke-width="0.00" fill="#000"/>
<circle cx="338.20" cy="342.20" r="2.60" fill="#4a4a4a" stroke="#000" stroke-width="1.00"/>
<path d="M220 385.1 H222.2 V408.4 H220" stroke="#000" stroke-width="1.20" fill="none"/>
<path d="M261.3 358.2 H263.1 V402.6 H261.3" stroke="#000" stroke-width="1.20" fill="none"/>
<path d="M340 343.7 H343 V402.5 H340.5" stroke="#000" stroke-width="1.20" fill="none"/>
<path d="M218.50 394.16 L218.98 395.17 L220.09 395.08 L219.45 396.00 L220.09 396.92 L218.98 396.83 L218.50 397.84 L218.02 396.83 L216.91 396.92 L217.55 396.00 L216.91 395.08 L218.02 395.17 Z" fill="#000"/>
<path d="M256.80 363.46 L257.28 364.47 L258.39 364.38 L257.75 365.30 L258.39 366.22 L257.28 366.13 L256.80 367.14 L256.32 366.13 L255.21 366.22 L255.85 365.30 L255.21 364.38 L256.32 364.47 Z" fill="#000"/>
<path d="M259.10 381.86 L259.58 382.87 L260.69 382.78 L260.05 383.70 L260.69 384.62 L259.58 384.53 L259.10 385.54 L258.62 384.53 L257.51 384.62 L258.15 383.70 L257.51 382.78 L258.62 382.87 Z" fill="#000"/>
<path d="M338.20 351.96 L338.68 352.97 L339.79 352.88 L339.15 353.80 L339.79 354.72 L338.68 354.63 L338.20 355.64 L337.72 354.63 L336.61 354.72 L337.25 353.80 L336.61 352.88 L337.72 352.97 Z" fill="#000"/>
<path d="M338.20 374.46 L338.68 375.47 L339.79 375.38 L339.15 376.30 L339.79 377.22 L338.68 377.13 L338.20 378.14 L337.72 377.13 L336.61 377.22 L337.25 376.30 L336.61 375.38 L337.72 375.47 Z" fill="#000"/>
<text x="255.90" y="398.92" font-family="Liberation Sans" font-size="5.00" font-weight="bold" stroke="#888" stroke-width="0.15" fill="#888" text-anchor="middle">ns</text>
<text x="337.50" y="398.72" font-family="Liberation Sans" font-size="5.00" font-weight="bold" stroke="#888" stroke-width="0.15" fill="#888" text-anchor="middle">ns</text>
<rect x="210.60" y="259.60" width="137.00" height="155.00" fill="none" stroke="#222" stroke-width="1.10"/>
<text x="219.00" y="282.00" font-family="Liberation Sans" font-size="16.00" font-weight="bold" fill="#000" text-anchor="start" stroke="#000" stroke-width="0.5">ii</text>
<text x="282.00" y="272.42" font-family="Liberation Sans" font-size="8.20" font-weight="bold" font-style="italic" stroke="#000" stroke-width="0.15" fill="#000" text-anchor="middle">Low Antiserum</text>
<text x="288.50" y="307.04" font-family="Liberation Sans" font-size="7.10" font-weight="bold" stroke="#000" stroke-width="0.15" fill="#000" text-anchor="middle">GA-Discocyte</text>
<text x="308.40" y="393.64" font-family="Liberation Sans" font-size="7.10" font-weight="bold" stroke="#7a7a7a" stroke-width="0.15" fill="#7a7a7a" text-anchor="middle">Native RBC</text>
<text x="308.10" y="400.60" font-family="Liberation Sans" font-size="6.10" font-weight="bold" stroke="#7a7a7a" stroke-width="0.15" fill="#7a7a7a" text-anchor="middle">y = 0.2</text>
<text x="205.60" y="301.44" font-family="Liberation Sans" font-size="7.10" font-weight="bold" stroke="#000" stroke-width="0.15" fill="#000" text-anchor="middle">3</text>
<text x="205.60" y="378.74" font-family="Liberation Sans" font-size="7.10" font-weight="bold" stroke="#000" stroke-width="0.15" fill="#000" text-anchor="middle">1</text>
<text x="206.30" y="417.74" font-family="Liberation Sans" font-size="7.10" font-weight="bold" stroke="#000" stroke-width="0.15" fill="#000" text-anchor="middle">0</text>
<text x="215.90" y="422.44" font-family="Liberation Sans" font-size="7.10" font-weight="bold" stroke="#000" stroke-width="0.15" fill="#000" text-anchor="middle">0</text>
<text x="256.20" y="422.44" font-family="Liberation Sans" font-size="7.10" font-weight="bold" stroke="#000" stroke-width="0.15" fill="#000" text-anchor="middle">90</text>
<text x="339.00" y="422.44" font-family="Liberation Sans" font-size="7.10" font-weight="bold" stroke="#000" stroke-width="0.15" fill="#000" text-anchor="middle">270</text>
<rect x="252.70" y="311.70" width="71.10" height="27.50" fill="#fff" stroke="#000" stroke-width="1.50"/>
<text x="257.5" y="327.4" font-size="9" font-family="Liberation Serif" font-style="italic" font-weight="bold" fill="#000">y = 0.8 +</text>
<line x1="288.30" y1="325.40" x2="321.00" y2="325.40" stroke="#000" stroke-width="1.10"/>
<text x="306" y="322.6" font-size="9" text-anchor="middle" font-family="Liberation Serif" font-style="italic" font-weight="bold" fill="#000">1.0 x</text>
<text x="304.3" y="334.7" font-size="9" text-anchor="middle" font-family="Liberation Serif" font-style="italic" font-weight="bold" fill="#000">90&#160; +&#160; x</text>
<path d="M366.3 275 H358 V375.5 H351.3" stroke="#000" stroke-width="0.80" fill="none" stroke-dasharray="1,1"/>
<line x1="377.60" y1="414.30" x2="380.80" y2="414.30" stroke="#000" stroke-width="0.90"/>
<line x1="517.50" y1="414.30" x2="514.30" y2="414.30" stroke="#000" stroke-width="0.90"/>
<line x1="377.60" y1="400.18" x2="379.80" y2="400.18" stroke="#000" stroke-width="0.90"/>
<line x1="517.50" y1="400.18" x2="515.30" y2="400.18" stroke="#000" stroke-width="0.90"/>
<line x1="377.60" y1="386.06" x2="379.80" y2="386.06" stroke="#000" stroke-width="0.90"/>
<line x1="517.50" y1="386.06" x2="515.30" y2="386.06" stroke="#000" stroke-width="0.90"/>
<line x1="377.60" y1="371.94" x2="379.80" y2="371.94" stroke="#000" stroke-width="0.90"/>
<line x1="517.50" y1="371.94" x2="515.30" y2="371.94" stroke="#000" stroke-width="0.90"/>
<line x1="377.60" y1="357.82" x2="379.80" y2="357.82" stroke="#000" stroke-width="0.90"/>
<line x1="517.50" y1="357.82" x2="515.30" y2="357.82" stroke="#000" stroke-width="0.90"/>
<line x1="377.60" y1="343.70" x2="380.80" y2="343.70" stroke="#000" stroke-width="0.90"/>
<line x1="517.50" y1="343.70" x2="514.30" y2="343.70" stroke="#000" stroke-width="0.90"/>
<line x1="377.60" y1="329.58" x2="379.80" y2="329.58" stroke="#000" stroke-width="0.90"/>
<line x1="517.50" y1="329.58" x2="515.30" y2="329.58" stroke="#000" stroke-width="0.90"/>
<line x1="377.60" y1="315.46" x2="379.80" y2="315.46" stroke="#000" stroke-width="0.90"/>
<line x1="517.50" y1="315.46" x2="515.30" y2="315.46" stroke="#000" stroke-width="0.90"/>
<line x1="377.60" y1="301.34" x2="379.80" y2="301.34" stroke="#000" stroke-width="0.90"/>
<line x1="517.50" y1="301.34" x2="515.30" y2="301.34" stroke="#000" stroke-width="0.90"/>
<line x1="377.60" y1="287.22" x2="379.80" y2="287.22" stroke="#000" stroke-width="0.90"/>
<line x1="517.50" y1="287.22" x2="515.30" y2="287.22" stroke="#000" stroke-width="0.90"/>
<line x1="377.60" y1="273.10" x2="380.80" y2="273.10" stroke="#000" stroke-width="0.90"/>
<line x1="517.50" y1="273.10" x2="514.30" y2="273.10" stroke="#000" stroke-width="0.90"/>
<line x1="385.90" y1="414.60" x2="385.90" y2="411.40" stroke="#000" stroke-width="0.90"/>
<line x1="385.90" y1="259.60" x2="385.90" y2="262.80" stroke="#000" stroke-width="0.90"/>
<line x1="406.37" y1="414.60" x2="406.37" y2="412.40" stroke="#000" stroke-width="0.90"/>
<line x1="406.37" y1="259.60" x2="406.37" y2="261.80" stroke="#000" stroke-width="0.90"/>
<line x1="426.83" y1="414.60" x2="426.83" y2="412.40" stroke="#000" stroke-width="0.90"/>
<line x1="426.83" y1="259.60" x2="426.83" y2="261.80" stroke="#000" stroke-width="0.90"/>
<line x1="447.30" y1="414.60" x2="447.30" y2="411.40" stroke="#000" stroke-width="0.90"/>
<line x1="447.30" y1="259.60" x2="447.30" y2="262.80" stroke="#000" stroke-width="0.90"/>
<line x1="467.76" y1="414.60" x2="467.76" y2="412.40" stroke="#000" stroke-width="0.90"/>
<line x1="467.76" y1="259.60" x2="467.76" y2="261.80" stroke="#000" stroke-width="0.90"/>
<line x1="488.23" y1="414.60" x2="488.23" y2="412.40" stroke="#000" stroke-width="0.90"/>
<line x1="488.23" y1="259.60" x2="488.23" y2="261.80" stroke="#000" stroke-width="0.90"/>
<line x1="508.70" y1="414.60" x2="508.70" y2="411.40" stroke="#000" stroke-width="0.90"/>
<line x1="508.70" y1="259.60" x2="508.70" y2="262.80" stroke="#000" stroke-width="0.90"/>
<line x1="385.90" y1="407.20" x2="508.70" y2="407.20" stroke="#9a9a9a" stroke-width="1.80"/>
<path d="M385.90 357.82 L387.13 358.38 L388.36 358.93 L389.58 359.47 L390.81 359.99 L392.04 360.51 L393.27 361.02 L394.50 361.51 L395.72 362.00 L396.95 362.48 L398.18 362.95 L399.41 363.42 L400.64 363.87 L401.86 364.32 L403.09 364.76 L404.32 365.19 L405.55 365.61 L406.78 366.03 L408.00 366.44 L409.23 366.84 L410.46 367.23 L411.69 367.62 L412.92 368.00 L414.14 368.38 L415.37 368.75 L416.60 369.12 L417.83 369.47 L419.05 369.83 L420.28 370.18 L421.51 370.52 L422.74 370.85 L423.97 371.19 L425.19 371.51 L426.42 371.83 L427.65 372.15 L428.88 372.46 L430.11 372.77 L431.33 373.07 L432.56 373.37 L433.79 373.67 L435.02 373.96 L436.25 374.24 L437.47 374.53 L438.70 374.80 L439.93 375.08 L441.16 375.35 L442.39 375.62 L443.61 375.88 L444.84 376.14 L446.07 376.39 L447.30 376.65 L448.53 376.90 L449.75 377.14 L450.98 377.38 L452.21 377.62 L453.44 377.86 L454.67 378.09 L455.89 378.33 L457.12 378.55 L458.35 378.78 L459.58 379.00 L460.81 379.22 L462.03 379.44 L463.26 379.65 L464.49 379.86 L465.72 380.07 L466.95 380.28 L468.17 380.48 L469.40 380.68 L470.63 380.88 L471.86 381.08 L473.09 381.27 L474.31 381.46 L475.54 381.65 L476.77 381.84 L478.00 382.03 L479.22 382.21 L480.45 382.39 L481.68 382.57 L482.91 382.75 L484.14 382.92 L485.36 383.10 L486.59 383.27 L487.82 383.44 L489.05 383.60 L490.28 383.77 L491.50 383.93 L492.73 384.10 L493.96 384.26 L495.19 384.42 L496.42 384.57 L497.64 384.73 L498.87 384.88 L500.10 385.04 L501.33 385.19 L502.56 385.34 L503.78 385.48 L505.01 385.63 L506.24 385.77 L507.47 385.92 L508.70 386.06" stroke="#000" stroke-width="1.60" fill="none"/>
<circle cx="385.90" cy="407.40" r="2.80" fill="#c4c4c4" stroke="#8e8e8e" stroke-width="0.70"/>
<circle cx="431.40" cy="407.40" r="2.80" fill="#c4c4c4" stroke="#8e8e8e" stroke-width="0.70"/>
<circle cx="509.30" cy="405.90" r="2.80" fill="#c4c4c4" stroke="#8e8e8e" stroke-width="0.70"/>
<circle cx="385.90" cy="358.80" r="2.60" fill="#4a4a4a" stroke="#000" stroke-width="1.00"/>
<circle cx="431.40" cy="371.80" r="2.60" fill="#4a4a4a" stroke="#000" stroke-width="1.00"/>
<line x1="509.30" y1="379.20" x2="509.30" y2="390.30" stroke="#000" stroke-width="0.90"/>
<path d="M507.70 378.90 H510.90 L509.30 380.80 Z" stroke="none" stroke-width="0.00" fill="#000"/>
<path d="M507.70 390.60 H510.90 L509.30 388.70 Z" stroke="none" stroke-width="0.00" fill="#000"/>
<circle cx="509.30" cy="385.30" r="2.60" fill="#4a4a4a" stroke="#000" stroke-width="1.00"/>
<path d="M388.8 358.8 H390.8 V403.5 H388.8" stroke="#000" stroke-width="1.20" fill="none"/>
<path d="M436.6 371.8 H438.6 V402 H436.6" stroke="#000" stroke-width="1.20" fill="none"/>
<path d="M512.3 386 H514.5 V402.3 H513.3" stroke="#000" stroke-width="1.20" fill="none"/>
<path d="M386.70 381.16 L387.18 382.17 L388.29 382.08 L387.65 383.00 L388.29 383.92 L387.18 383.83 L386.70 384.84 L386.22 383.83 L385.11 383.92 L385.75 383.00 L385.11 382.08 L386.22 382.17 Z" fill="#000"/>
<path d="M431.40 377.16 L431.88 378.17 L432.99 378.08 L432.35 379.00 L432.99 379.92 L431.88 379.83 L431.40 380.84 L430.92 379.83 L429.81 379.92 L430.45 379.00 L429.81 378.08 L430.92 378.17 Z" fill="#000"/>
<path d="M431.40 387.86 L431.88 388.87 L432.99 388.78 L432.35 389.70 L432.99 390.62 L431.88 390.53 L431.40 391.54 L430.92 390.53 L429.81 390.62 L430.45 389.70 L429.81 388.78 L430.92 388.87 Z" fill="#000"/>
<path d="M509.30 392.84 L509.65 393.59 L510.48 393.52 L510.01 394.20 L510.48 394.88 L509.65 394.81 L509.30 395.56 L508.95 394.81 L508.12 394.88 L508.59 394.20 L508.12 393.52 L508.95 393.59 Z" fill="#000"/>
<path d="M509.30 395.64 L509.65 396.39 L510.48 396.32 L510.01 397.00 L510.48 397.68 L509.65 397.61 L509.30 398.36 L508.95 397.61 L508.12 397.68 L508.59 397.00 L508.12 396.32 L508.95 396.39 Z" fill="#000"/>
<path d="M509.30 398.44 L509.65 399.19 L510.48 399.12 L510.01 399.80 L510.48 400.48 L509.65 400.41 L509.30 401.16 L508.95 400.41 L508.12 400.48 L508.59 399.80 L508.12 399.12 L508.95 399.19 Z" fill="#000"/>
<text x="420.50" y="401.72" font-family="Liberation Sans" font-size="5.00" font-weight="bold" stroke="#888" stroke-width="0.15" fill="#888" text-anchor="middle">ns</text>
<text x="501.20" y="402.72" font-family="Liberation Sans" font-size="5.00" font-weight="bold" stroke="#888" stroke-width="0.15" fill="#888" text-anchor="middle">ns</text>
<rect x="377.60" y="259.60" width="139.90" height="155.00" fill="none" stroke="#222" stroke-width="1.10"/>
<text x="385.60" y="282.00" font-family="Liberation Sans" font-size="16.00" font-weight="bold" fill="#000" text-anchor="start" letter-spacing="-0.6" stroke="#000" stroke-width="0.5">iii</text>
<text x="452.20" y="272.42" font-family="Liberation Sans" font-size="8.20" font-weight="bold" font-style="italic" stroke="#000" stroke-width="0.15" fill="#000" text-anchor="middle">Zero Antiserum</text>
<text x="469.90" y="326.24" font-family="Liberation Sans" font-size="7.10" font-weight="bold" stroke="#000" stroke-width="0.15" fill="#000" text-anchor="middle">GA-Discocyte</text>
<text x="471.40" y="397.44" font-family="Liberation Sans" font-size="7.10" font-weight="bold" stroke="#7a7a7a" stroke-width="0.15" fill="#7a7a7a" text-anchor="middle">Native RBC</text>
<text x="470.70" y="401.90" font-family="Liberation Sans" font-size="6.10" font-weight="bold" stroke="#7a7a7a" stroke-width="0.15" fill="#7a7a7a" text-anchor="middle">y = 0.05</text>
<text x="374.00" y="275.54" font-family="Liberation Sans" font-size="7.10" font-weight="bold" stroke="#000" stroke-width="0.15" fill="#000" text-anchor="middle">1</text>
<text x="371.00" y="346.14" font-family="Liberation Sans" font-size="7.10" font-weight="bold" stroke="#000" stroke-width="0.15" fill="#000" text-anchor="middle">0.5</text>
<text x="373.50" y="417.44" font-family="Liberation Sans" font-size="7.10" font-weight="bold" stroke="#000" stroke-width="0.15" fill="#000" text-anchor="middle">0</text>
<text x="385.90" y="421.64" font-family="Liberation Sans" font-size="7.10" font-weight="bold" stroke="#000" stroke-width="0.15" fill="#000" text-anchor="middle">0</text>
<text x="447.30" y="421.64" font-family="Liberation Sans" font-size="7.10" font-weight="bold" stroke="#000" stroke-width="0.15" fill="#000" text-anchor="middle">45</text>
<text x="510.00" y="421.44" font-family="Liberation Sans" font-size="7.10" font-weight="bold" stroke="#000" stroke-width="0.15" fill="#000" text-anchor="middle">90</text>
<rect x="439.20" y="330.80" width="59.30" height="28.00" fill="#fff" stroke="#000" stroke-width="1.50"/>
<text x="443.1" y="347.3" font-size="9" font-family="Liberation Serif" font-style="italic" font-weight="bold" fill="#000">y =</text>
<line x1="457.70" y1="345.80" x2="491.20" y2="345.80" stroke="#000" stroke-width="1.10"/>
<text x="475" y="342.4" font-size="9" text-anchor="middle" font-family="Liberation Serif" font-style="italic" font-weight="bold" fill="#000">0.4*90</text>
<text x="473.5" y="355" font-size="9" text-anchor="middle" font-family="Liberation Serif" font-style="italic" font-weight="bold" fill="#000">90&#160; +&#160; x</text>
<text x="0.50" y="466.42" font-family="Liberation Sans" font-size="14.60" font-weight="bold" stroke="#000" stroke-width="0.15" fill="#000" text-anchor="start">D</text>
<text x="118.75" y="451.57" font-family="Liberation Sans" font-size="8.20" font-weight="bold" stroke="#000" stroke-width="0.15" fill="#000" text-anchor="middle">At Intermediate Opsonization, Native &amp;</text>
<text x="118.10" y="461.57" font-family="Liberation Sans" font-size="8.20" font-weight="bold" stroke="#000" stroke-width="0.15" fill="#000" text-anchor="middle">GA-Disc show CD47 signaling,</text>
<text x="118.30" y="471.57" font-family="Liberation Sans" font-size="8.20" font-weight="bold" stroke="#000" stroke-width="0.15" fill="#000" text-anchor="middle">dependent on SIRPA &amp; SHP-1</text>
<line x1="20.50" y1="463.00" x2="57.00" y2="463.00" stroke="#111" stroke-width="1.60"/>
<line x1="184.50" y1="462.70" x2="210.50" y2="462.70" stroke="#111" stroke-width="1.60"/>
<rect x="36.50" y="511.20" width="167.25" height="41.40" fill="#c8c8c8" stroke="none" stroke-width="1.00"/>
<line x1="35.00" y1="620.50" x2="39.00" y2="620.50" stroke="#000" stroke-width="0.80"/>
<line x1="203.75" y1="620.50" x2="199.75" y2="620.50" stroke="#000" stroke-width="0.80"/>
<line x1="35.00" y1="600.65" x2="39.00" y2="600.65" stroke="#000" stroke-width="0.80"/>
<line x1="203.75" y1="600.65" x2="199.75" y2="600.65" stroke="#000" stroke-width="0.80"/>
<line x1="35.00" y1="580.80" x2="37.50" y2="580.80" stroke="#000" stroke-width="0.80"/>
<line x1="203.75" y1="580.80" x2="201.25" y2="580.80" stroke="#000" stroke-width="0.80"/>
<line x1="35.00" y1="560.95" x2="39.00" y2="560.95" stroke="#000" stroke-width="0.80"/>
<line x1="203.75" y1="560.95" x2="199.75" y2="560.95" stroke="#000" stroke-width="0.80"/>
<line x1="35.00" y1="541.10" x2="37.50" y2="541.10" stroke="#000" stroke-width="0.80"/>
<line x1="203.75" y1="541.10" x2="201.25" y2="541.10" stroke="#000" stroke-width="0.80"/>
<line x1="35.00" y1="521.25" x2="37.50" y2="521.25" stroke="#000" stroke-width="0.80"/>
<line x1="203.75" y1="521.25" x2="201.25" y2="521.25" stroke="#000" stroke-width="0.80"/>
<line x1="35.00" y1="501.40" x2="39.00" y2="501.40" stroke="#000" stroke-width="0.80"/>
<line x1="203.75" y1="501.40" x2="199.75" y2="501.40" stroke="#000" stroke-width="0.80"/>
<line x1="96.25" y1="620.50" x2="96.25" y2="618.00" stroke="#000" stroke-width="0.80"/>
<line x1="96.25" y1="481.25" x2="96.25" y2="483.75" stroke="#000" stroke-width="0.80"/>
<line x1="64.12" y1="607.00" x2="64.12" y2="603.75" stroke="#000" stroke-width="1.10"/>
<line x1="62.33" y1="603.75" x2="65.92" y2="603.75" stroke="#000" stroke-width="1.10"/>
<rect x="56.25" y="607.00" width="15.75" height="13.50" fill="#777" stroke="#000" stroke-width="0.90"/>
<line x1="80.38" y1="584.25" x2="80.38" y2="582.80" stroke="#000" stroke-width="1.10"/>
<line x1="78.58" y1="582.80" x2="82.17" y2="582.80" stroke="#000" stroke-width="1.10"/>
<rect x="72.50" y="584.25" width="15.75" height="36.25" fill="#3a3a3a" stroke="#000" stroke-width="0.90"/>
<line x1="125.12" y1="595.50" x2="125.12" y2="591.50" stroke="#000" stroke-width="1.10"/>
<line x1="123.33" y1="591.50" x2="126.92" y2="591.50" stroke="#000" stroke-width="1.10"/>
<rect x="117.00" y="595.50" width="16.25" height="25.00" fill="#777" stroke="#000" stroke-width="0.90"/>
<line x1="141.50" y1="549.50" x2="141.50" y2="547.50" stroke="#000" stroke-width="1.10"/>
<line x1="139.70" y1="547.50" x2="143.30" y2="547.50" stroke="#000" stroke-width="1.10"/>
<rect x="133.50" y="549.50" width="16.00" height="71.00" fill="#3a3a3a" stroke="#000" stroke-width="0.90"/>
<line x1="157.75" y1="528.75" x2="157.75" y2="527.00" stroke="#000" stroke-width="1.10"/>
<line x1="155.95" y1="527.00" x2="159.55" y2="527.00" stroke="#000" stroke-width="1.10"/>
<rect x="149.75" y="528.75" width="16.00" height="91.75" fill="#999" stroke="#000" stroke-width="0.90"/>
<line x1="174.25" y1="502.00" x2="174.25" y2="494.25" stroke="#000" stroke-width="1.10"/>
<line x1="172.45" y1="494.25" x2="176.05" y2="494.25" stroke="#000" stroke-width="1.10"/>
<rect x="166.00" y="502.00" width="16.50" height="118.50" fill="#cbcbcb" stroke="#000" stroke-width="0.90"/>
<path d="M64.50 580.75 V578.75 H80.50 V580.75" stroke="#000" stroke-width="1.00" fill="none"/>
<path d="M72.50 573.39 L73.05 574.55 L74.33 574.45 L73.60 575.50 L74.33 576.55 L73.05 576.45 L72.50 577.61 L71.95 576.45 L70.67 576.55 L71.40 575.50 L70.67 574.45 L71.95 574.55 Z" fill="#000"/>
<path d="M64.50 570.75 V568.75 H127.00 V570.75" stroke="#000" stroke-width="1.00" fill="none"/>
<path d="M95.50 562.89 L96.05 564.05 L97.33 563.95 L96.60 565.00 L97.33 566.05 L96.05 565.95 L95.50 567.11 L94.95 565.95 L93.67 566.05 L94.40 565.00 L93.67 563.95 L94.95 564.05 Z" fill="#000"/>
<path d="M124.50 545.75 V543.75 H142.00 V545.75" stroke="#000" stroke-width="1.00" fill="none"/>
<path d="M132.50 538.39 L133.05 539.55 L134.33 539.45 L133.60 540.50 L134.33 541.55 L133.05 541.45 L132.50 542.61 L131.95 541.45 L130.67 541.55 L131.40 540.50 L130.67 539.45 L131.95 539.55 Z" fill="#000"/>
<path d="M124.50 524.50 V522.50 H158.00 V524.50" stroke="#000" stroke-width="1.00" fill="none"/>
<path d="M141.25 517.39 L141.80 518.55 L143.08 518.45 L142.35 519.50 L143.08 520.55 L141.80 520.45 L141.25 521.61 L140.70 520.45 L139.42 520.55 L140.15 519.50 L139.42 518.45 L140.70 518.55 Z" fill="#000"/>
<path d="M124.50 493.25 V491.25 H173.75 V493.25" stroke="#000" stroke-width="1.00" fill="none"/>
<path d="M150.00 485.89 L150.55 487.05 L151.83 486.95 L151.10 488.00 L151.83 489.05 L150.55 488.95 L150.00 490.11 L149.45 488.95 L148.17 489.05 L148.90 488.00 L148.17 486.95 L149.45 487.05 Z" fill="#000"/>
<rect x="35.00" y="481.25" width="168.75" height="139.25" fill="none" stroke="#000" stroke-width="1.30"/>
<text x="30.70" y="622.94" font-family="Liberation Sans" font-size="7.10" font-weight="bold" stroke="#000" stroke-width="0.15" fill="#000" text-anchor="middle">0</text>
<text x="30.70" y="603.09" font-family="Liberation Sans" font-size="7.10" font-weight="bold" stroke="#000" stroke-width="0.15" fill="#000" text-anchor="middle">1</text>
<text x="30.70" y="563.39" font-family="Liberation Sans" font-size="7.10" font-weight="bold" stroke="#000" stroke-width="0.15" fill="#000" text-anchor="middle">3</text>
<text x="30.70" y="503.84" font-family="Liberation Sans" font-size="7.10" font-weight="bold" stroke="#000" stroke-width="0.15" fill="#000" text-anchor="middle">6</text>
<text x="0" y="0" transform="translate(6.54 554.50) rotate(-90)" font-family="Liberation Sans" font-size="7.10" font-weight="bold" stroke="#000" stroke-width="0.15" fill="#000" text-anchor="middle">Flow Cytometry Phagocytic</text>
<text x="0" y="0" transform="translate(14.94 555.10) rotate(-90)" font-family="Liberation Sans" font-size="7.10" font-weight="bold" stroke="#000" stroke-width="0.15" fill="#000" text-anchor="middle">Index ( Norm. to Hi-Antiserum</text>
<text x="0" y="0" transform="translate(25.74 555.10) rotate(-90)" font-family="Liberation Sans" font-size="7.10" font-weight="bold" stroke="#000" stroke-width="0.15" fill="#000" text-anchor="middle">Opsonized&#160; Native -RBC)</text>
<text x="61.00" y="631.94" font-family="Liberation Sans" font-size="7.10" font-weight="bold" stroke="#000" stroke-width="0.15" fill="#000" text-anchor="end">GA&#160;&#160;:</text>
<text x="64.50" y="631.94" font-family="Liberation Sans" font-size="7.10" font-weight="bold" stroke="#000" stroke-width="0.15" fill="#000" text-anchor="middle">-</text>
<text x="82.50" y="631.94" font-family="Liberation Sans" font-size="7.10" font-weight="bold" stroke="#000" stroke-width="0.15" fill="#000" text-anchor="middle">-</text>
<text x="124.25" y="631.94" font-family="Liberation Sans" font-size="7.10" font-weight="bold" stroke="#000" stroke-width="0.15" fill="#000" text-anchor="middle">+</text>
<text x="140.00" y="631.94" font-family="Liberation Sans" font-size="7.10" font-weight="bold" stroke="#000" stroke-width="0.15" fill="#000" text-anchor="middle">+</text>
<text x="156.50" y="631.94" font-family="Liberation Sans" font-size="7.10" font-weight="bold" stroke="#000" stroke-width="0.15" fill="#000" text-anchor="middle">+</text>
<text x="173.25" y="631.94" font-family="Liberation Sans" font-size="7.10" font-weight="bold" stroke="#000" stroke-width="0.15" fill="#000" text-anchor="middle">+</text>
<text x="61.00" y="641.74" font-family="Liberation Sans" font-size="7.10" font-weight="bold" stroke="#000" stroke-width="0.15" fill="#000" text-anchor="end"><tspan font-family="Liberation Serif" font-weight="normal" font-size="9">&#945;</tspan>-CD47:</text>
<text x="64.50" y="641.74" font-family="Liberation Sans" font-size="7.10" font-weight="bold" stroke="#000" stroke-width="0.15" fill="#000" text-anchor="middle">-</text>
<text x="82.50" y="641.74" font-family="Liberation Sans" font-size="7.10" font-weight="bold" stroke="#000" stroke-width="0.15" fill="#000" text-anchor="middle">+</text>
<text x="124.25" y="641.74" font-family="Liberation Sans" font-size="7.10" font-weight="bold" stroke="#000" stroke-width="0.15" fill="#000" text-anchor="middle">-</text>
<text x="140.00" y="641.74" font-family="Liberation Sans" font-size="7.10" font-weight="bold" stroke="#000" stroke-width="0.15" fill="#000" text-anchor="middle">+</text>
<text x="156.50" y="641.74" font-family="Liberation Sans" font-size="7.10" font-weight="bold" stroke="#000" stroke-width="0.15" fill="#000" text-anchor="middle">-</text>
<text x="173.25" y="641.74" font-family="Liberation Sans" font-size="7.10" font-weight="bold" stroke="#000" stroke-width="0.15" fill="#000" text-anchor="middle">-</text>
<text x="61.00" y="650.64" font-family="Liberation Sans" font-size="7.10" font-weight="bold" stroke="#000" stroke-width="0.15" fill="#000" text-anchor="end"><tspan font-family="Liberation Serif" font-weight="normal" font-size="9">&#945;</tspan>-SIRPA:</text>
<text x="64.50" y="650.64" font-family="Liberation Sans" font-size="7.10" font-weight="bold" stroke="#000" stroke-width="0.15" fill="#000" text-anchor="middle">-</text>
<text x="82.50" y="650.64" font-family="Liberation Sans" font-size="7.10" font-weight="bold" stroke="#000" stroke-width="0.15" fill="#000" text-anchor="middle">-</text>
<text x="124.25" y="650.64" font-family="Liberation Sans" font-size="7.10" font-weight="bold" stroke="#000" stroke-width="0.15" fill="#000" text-anchor="middle">-</text>
<text x="140.00" y="650.64" font-family="Liberation Sans" font-size="7.10" font-weight="bold" stroke="#000" stroke-width="0.15" fill="#000" text-anchor="middle">-</text>
<text x="156.50" y="650.64" font-family="Liberation Sans" font-size="7.10" font-weight="bold" stroke="#000" stroke-width="0.15" fill="#000" text-anchor="middle">+</text>
<text x="173.25" y="650.64" font-family="Liberation Sans" font-size="7.10" font-weight="bold" stroke="#000" stroke-width="0.15" fill="#000" text-anchor="middle">-</text>
<text x="61.00" y="659.04" font-family="Liberation Sans" font-size="7.10" font-weight="bold" stroke="#000" stroke-width="0.15" fill="#000" text-anchor="end">SHP1-I :</text>
<text x="64.50" y="659.04" font-family="Liberation Sans" font-size="7.10" font-weight="bold" stroke="#000" stroke-width="0.15" fill="#000" text-anchor="middle">-</text>
<text x="82.50" y="659.04" font-family="Liberation Sans" font-size="7.10" font-weight="bold" stroke="#000" stroke-width="0.15" fill="#000" text-anchor="middle">-</text>
<text x="124.25" y="659.04" font-family="Liberation Sans" font-size="7.10" font-weight="bold" stroke="#000" stroke-width="0.15" fill="#000" text-anchor="middle">-</text>
<text x="140.00" y="659.04" font-family="Liberation Sans" font-size="7.10" font-weight="bold" stroke="#000" stroke-width="0.15" fill="#000" text-anchor="middle">-</text>
<text x="156.50" y="659.04" font-family="Liberation Sans" font-size="7.10" font-weight="bold" stroke="#000" stroke-width="0.15" fill="#000" text-anchor="middle">-</text>
<text x="173.25" y="659.04" font-family="Liberation Sans" font-size="7.10" font-weight="bold" stroke="#000" stroke-width="0.15" fill="#000" text-anchor="middle">+</text>
<text x="227.30" y="467.32" font-family="Liberation Sans" font-size="14.60" font-weight="bold" stroke="#000" stroke-width="0.15" fill="#000" text-anchor="start">E</text>
<text x="371.40" y="452.42" font-family="Liberation Sans" font-size="8.20" font-weight="bold" stroke="#000" stroke-width="0.15" fill="#000" text-anchor="middle">NSG Mouse Splenic Macrophages</text>
<text x="371.20" y="463.02" font-family="Liberation Sans" font-size="8.20" font-weight="bold" stroke="#000" stroke-width="0.15" fill="#000" text-anchor="middle">Take up Stiff, Highly Opsonized hRBC</text>
<text x="370.70" y="471.82" font-family="Liberation Sans" font-size="8.20" font-weight="bold" stroke="#000" stroke-width="0.15" fill="#000" text-anchor="middle"><tspan font-style="italic">in vivo</tspan>, independent of CD47</text>
<line x1="244.60" y1="462.90" x2="294.80" y2="462.90" stroke="#111" stroke-width="1.60"/>
<line x1="452.80" y1="462.90" x2="502.30" y2="462.90" stroke="#111" stroke-width="1.60"/>
<line x1="361.10" y1="618.10" x2="362.90" y2="618.10" stroke="#000" stroke-width="0.80"/>
<line x1="509.20" y1="618.10" x2="507.40" y2="618.10" stroke="#000" stroke-width="0.80"/>
<line x1="361.10" y1="615.35" x2="362.90" y2="615.35" stroke="#000" stroke-width="0.80"/>
<line x1="509.20" y1="615.35" x2="507.40" y2="615.35" stroke="#000" stroke-width="0.80"/>
<line x1="361.10" y1="612.97" x2="362.90" y2="612.97" stroke="#000" stroke-width="0.80"/>
<line x1="509.20" y1="612.97" x2="507.40" y2="612.97" stroke="#000" stroke-width="0.80"/>
<line x1="361.10" y1="610.88" x2="362.90" y2="610.88" stroke="#000" stroke-width="0.80"/>
<line x1="509.20" y1="610.88" x2="507.40" y2="610.88" stroke="#000" stroke-width="0.80"/>
<line x1="361.10" y1="609.00" x2="364.60" y2="609.00" stroke="#000" stroke-width="0.80"/>
<line x1="509.20" y1="609.00" x2="505.70" y2="609.00" stroke="#000" stroke-width="0.80"/>
<line x1="361.10" y1="596.66" x2="362.90" y2="596.66" stroke="#000" stroke-width="0.80"/>
<line x1="509.20" y1="596.66" x2="507.40" y2="596.66" stroke="#000" stroke-width="0.80"/>
<line x1="361.10" y1="589.44" x2="362.90" y2="589.44" stroke="#000" stroke-width="0.80"/>
<line x1="509.20" y1="589.44" x2="507.40" y2="589.44" stroke="#000" stroke-width="0.80"/>
<line x1="361.10" y1="584.32" x2="362.90" y2="584.32" stroke="#000" stroke-width="0.80"/>
<line x1="509.20" y1="584.32" x2="507.40" y2="584.32" stroke="#000" stroke-width="0.80"/>
<line x1="361.10" y1="580.34" x2="362.90" y2="580.34" stroke="#000" stroke-width="0.80"/>
<line x1="509.20" y1="580.34" x2="507.40" y2="580.34" stroke="#000" stroke-width="0.80"/>
<line x1="361.10" y1="577.10" x2="362.90" y2="577.10" stroke="#000" stroke-width="0.80"/>
<line x1="509.20" y1="577.10" x2="507.40" y2="577.10" stroke="#000" stroke-width="0.80"/>
<line x1="361.10" y1="574.35" x2="362.90" y2="574.35" stroke="#000" stroke-width="0.80"/>
<line x1="509.20" y1="574.35" x2="507.40" y2="574.35" stroke="#000" stroke-width="0.80"/>
<line x1="361.10" y1="571.97" x2="362.90" y2="571.97" stroke="#000" stroke-width="0.80"/>
<line x1="509.20" y1="571.97" x2="507.40" y2="571.97" stroke="#000" stroke-width="0.80"/>
<line x1="361.10" y1="569.88" x2="362.90" y2="569.88" stroke="#000" stroke-width="0.80"/>
<line x1="509.20" y1="569.88" x2="507.40" y2="569.88" stroke="#000" stroke-width="0.80"/>
<line x1="361.10" y1="568.00" x2="364.60" y2="568.00" stroke="#000" stroke-width="0.80"/>
<line x1="509.20" y1="568.00" x2="505.70" y2="568.00" stroke="#000" stroke-width="0.80"/>
<line x1="361.10" y1="555.66" x2="362.90" y2="555.66" stroke="#000" stroke-width="0.80"/>
<line x1="509.20" y1="555.66" x2="507.40" y2="555.66" stroke="#000" stroke-width="0.80"/>
<line x1="361.10" y1="548.44" x2="362.90" y2="548.44" stroke="#000" stroke-width="0.80"/>
<line x1="509.20" y1="548.44" x2="507.40" y2="548.44" stroke="#000" stroke-width="0.80"/>
<line x1="361.10" y1="543.32" x2="362.90" y2="543.32" stroke="#000" stroke-width="0.80"/>
<line x1="509.20" y1="543.32" x2="507.40" y2="543.32" stroke="#000" stroke-width="0.80"/>
<line x1="361.10" y1="539.34" x2="362.90" y2="539.34" stroke="#000" stroke-width="0.80"/>
<line x1="509.20" y1="539.34" x2="507.40" y2="539.34" stroke="#000" stroke-width="0.80"/>
<line x1="361.10" y1="536.10" x2="362.90" y2="536.10" stroke="#000" stroke-width="0.80"/>
<line x1="509.20" y1="536.10" x2="507.40" y2="536.10" stroke="#000" stroke-width="0.80"/>
<line x1="361.10" y1="533.35" x2="362.90" y2="533.35" stroke="#000" stroke-width="0.80"/>
<line x1="509.20" y1="533.35" x2="507.40" y2="533.35" stroke="#000" stroke-width="0.80"/>
<line x1="361.10" y1="530.97" x2="362.90" y2="530.97" stroke="#000" stroke-width="0.80"/>
<line x1="509.20" y1="530.97" x2="507.40" y2="530.97" stroke="#000" stroke-width="0.80"/>
<line x1="361.10" y1="528.88" x2="362.90" y2="528.88" stroke="#000" stroke-width="0.80"/>
<line x1="509.20" y1="528.88" x2="507.40" y2="528.88" stroke="#000" stroke-width="0.80"/>
<line x1="361.10" y1="527.00" x2="364.60" y2="527.00" stroke="#000" stroke-width="0.80"/>
<line x1="509.20" y1="527.00" x2="505.70" y2="527.00" stroke="#000" stroke-width="0.80"/>
<line x1="361.10" y1="514.66" x2="362.90" y2="514.66" stroke="#000" stroke-width="0.80"/>
<line x1="509.20" y1="514.66" x2="507.40" y2="514.66" stroke="#000" stroke-width="0.80"/>
<line x1="361.10" y1="507.44" x2="362.90" y2="507.44" stroke="#000" stroke-width="0.80"/>
<line x1="509.20" y1="507.44" x2="507.40" y2="507.44" stroke="#000" stroke-width="0.80"/>
<line x1="361.10" y1="502.32" x2="362.90" y2="502.32" stroke="#000" stroke-width="0.80"/>
<line x1="509.20" y1="502.32" x2="507.40" y2="502.32" stroke="#000" stroke-width="0.80"/>
<line x1="361.10" y1="498.34" x2="362.90" y2="498.34" stroke="#000" stroke-width="0.80"/>
<line x1="509.20" y1="498.34" x2="507.40" y2="498.34" stroke="#000" stroke-width="0.80"/>
<line x1="361.10" y1="495.10" x2="362.90" y2="495.10" stroke="#000" stroke-width="0.80"/>
<line x1="509.20" y1="495.10" x2="507.40" y2="495.10" stroke="#000" stroke-width="0.80"/>
<line x1="361.10" y1="492.35" x2="362.90" y2="492.35" stroke="#000" stroke-width="0.80"/>
<line x1="509.20" y1="492.35" x2="507.40" y2="492.35" stroke="#000" stroke-width="0.80"/>
<line x1="361.10" y1="489.97" x2="362.90" y2="489.97" stroke="#000" stroke-width="0.80"/>
<line x1="509.20" y1="489.97" x2="507.40" y2="489.97" stroke="#000" stroke-width="0.80"/>
<line x1="361.10" y1="487.88" x2="362.90" y2="487.88" stroke="#000" stroke-width="0.80"/>
<line x1="509.20" y1="487.88" x2="507.40" y2="487.88" stroke="#000" stroke-width="0.80"/>
<line x1="361.10" y1="486.00" x2="364.60" y2="486.00" stroke="#000" stroke-width="0.80"/>
<line x1="509.20" y1="486.00" x2="505.70" y2="486.00" stroke="#000" stroke-width="0.80"/>
<line x1="410.00" y1="621.30" x2="410.00" y2="618.80" stroke="#000" stroke-width="1.00"/>
<line x1="410.00" y1="482.50" x2="410.00" y2="485.00" stroke="#000" stroke-width="1.00"/>
<line x1="459.40" y1="621.30" x2="459.40" y2="618.80" stroke="#000" stroke-width="1.00"/>
<line x1="459.40" y1="482.50" x2="459.40" y2="485.00" stroke="#000" stroke-width="1.00"/>
<line x1="375.00" y1="528.00" x2="375.00" y2="521.30" stroke="#000" stroke-width="1.30"/>
<line x1="373.20" y1="521.30" x2="376.80" y2="521.30" stroke="#000" stroke-width="1.30"/>
<rect x="365.00" y="528.00" width="20.00" height="93.30" fill="#000" stroke="none" stroke-width="1.00"/>
<line x1="393.20" y1="608.70" x2="396.80" y2="608.70" stroke="#000" stroke-width="1.30"/>
<rect x="385.00" y="609.30" width="20.00" height="12.00" fill="#a8a8a8" stroke="none" stroke-width="1.00"/>
<line x1="424.75" y1="533.00" x2="424.75" y2="527.50" stroke="#000" stroke-width="1.30"/>
<line x1="422.95" y1="527.50" x2="426.55" y2="527.50" stroke="#000" stroke-width="1.30"/>
<rect x="415.00" y="533.00" width="19.50" height="88.30" fill="#000" stroke="none" stroke-width="1.00"/>
<line x1="443.20" y1="608.40" x2="446.80" y2="608.40" stroke="#000" stroke-width="1.30"/>
<rect x="435.00" y="609.00" width="20.00" height="12.30" fill="#a8a8a8" stroke="none" stroke-width="1.00"/>
<line x1="474.30" y1="589.80" x2="474.30" y2="580.20" stroke="#000" stroke-width="1.30"/>
<line x1="472.50" y1="580.20" x2="476.10" y2="580.20" stroke="#000" stroke-width="1.30"/>
<rect x="464.60" y="589.80" width="19.40" height="31.50" fill="#000" stroke="none" stroke-width="1.00"/>
<rect x="361.10" y="482.50" width="148.10" height="138.80" fill="none" stroke="#000" stroke-width="1.40"/>
<text x="353.50" y="488.24" font-family="Liberation Sans" font-size="7.10" font-weight="bold" stroke="#000" stroke-width="0.15" fill="#000" text-anchor="middle">10</text>
<text x="355.80" y="529.44" font-family="Liberation Sans" font-size="7.10" font-weight="bold" stroke="#000" stroke-width="0.15" fill="#000" text-anchor="middle">1</text>
<text x="351.80" y="569.94" font-family="Liberation Sans" font-size="6.80" font-weight="bold" stroke="#000" stroke-width="0.15" fill="#000" text-anchor="middle">0.1</text>
<text x="350.20" y="610.43" font-family="Liberation Sans" font-size="6.20" font-weight="bold" stroke="#000" stroke-width="0.15" fill="#000" text-anchor="middle">0.01</text>
<rect x="373.40" y="488.40" width="6.00" height="6.00" fill="#000" stroke="none" stroke-width="1.00"/>
<rect x="373.60" y="500.20" width="5.70" height="5.80" fill="#999" stroke="#333" stroke-width="0.90"/>
<text x="383.80" y="493.60" font-family="Liberation Sans" font-size="6.10" font-weight="bold" stroke="#4a4a4a" stroke-width="0.15" fill="#4a4a4a" text-anchor="start">%RBC+ Macrophages (CD11b+)</text>
<text x="383.80" y="505.30" font-family="Liberation Sans" font-size="6.10" font-weight="bold" stroke="#4a4a4a" stroke-width="0.15" fill="#4a4a4a" text-anchor="start">%RBC+ Non-Macrophages</text>
<path d="M374.5 518 V514.5 H423.7 V518" stroke="#000" stroke-width="1.10" fill="none"/>
<text x="400.00" y="523.74" font-family="Liberation Sans" font-size="7.10" font-weight="bold" stroke="#000" stroke-width="0.15" fill="#000" text-anchor="middle">ns</text>
<path d="M395.00 601.99 L395.57 603.20 L396.91 603.10 L396.15 604.20 L396.91 605.31 L395.57 605.20 L395.00 606.41 L394.43 605.20 L393.09 605.31 L393.85 604.20 L393.09 603.10 L394.43 603.20 Z" fill="#000"/>
<path d="M444.60 599.79 L445.17 601.00 L446.51 600.89 L445.75 602.00 L446.51 603.11 L445.17 603.00 L444.60 604.21 L444.03 603.00 L442.69 603.11 L443.45 602.00 L442.69 600.89 L444.03 601.00 Z" fill="#000"/>
<path d="M474.80 574.79 L475.37 576.00 L476.71 575.89 L475.95 577.00 L476.71 578.11 L475.37 578.00 L474.80 579.21 L474.23 578.00 L472.89 578.11 L473.65 577.00 L472.89 575.89 L474.23 576.00 Z" fill="#000"/>
<text x="495.00" y="617.41" font-family="Liberation Sans" font-size="7.60" font-weight="bold" stroke="#000" stroke-width="0.15" fill="#000" text-anchor="middle">0</text>
<text x="387.20" y="628.87" font-family="Liberation Sans" font-size="6.30" font-weight="bold" stroke="#000" stroke-width="0.15" fill="#000" text-anchor="middle">CD47+</text>
<text x="431.50" y="629.17" font-family="Liberation Sans" font-size="6.30" font-weight="bold" stroke="#000" stroke-width="0.15" fill="#000" text-anchor="middle">CD47-Block</text>
<text x="485.80" y="629.17" font-family="Liberation Sans" font-size="6.30" font-weight="bold" stroke="#000" stroke-width="0.15" fill="#000" text-anchor="middle">CD47+ &amp;</text>
<text x="486.30" y="635.97" font-family="Liberation Sans" font-size="6.30" font-weight="bold" stroke="#000" stroke-width="0.15" fill="#000" text-anchor="middle">CD47-Block</text>
<rect x="465.00" y="513.50" width="39.00" height="36.30" fill="#fff" stroke="#555" stroke-width="0.90" rx="1.5"/>
<rect x="488.80" y="525.00" width="14.00" height="12.00" fill="#cfcfcf" stroke="none" stroke-width="1.00"/>
<path d="M489.6 536.2 L502.6 526.2 L503.2 535.8 Z" stroke="#000" stroke-width="0.90" fill="#222"/>
<path d="M494 534.5 L500.5 529.8" stroke="#888" stroke-width="0.60" fill="none"/>
<text x="476.90" y="522.47" font-family="Liberation Sans" font-size="6.30" font-weight="bold" stroke="#222" stroke-width="0.15" fill="#222" text-anchor="start">CD11b+</text>
<text x="0" y="0" transform="translate(456.60 530.00) rotate(-90)" font-family="Liberation Sans" font-size="6.40" font-weight="bold" stroke="#000" stroke-width="0.15" fill="#000" text-anchor="middle">CD11b</text>
<text x="494.00" y="561.43" font-family="Liberation Sans" font-size="6.20" font-weight="bold" stroke="#000" stroke-width="0.15" fill="#000" text-anchor="middle">SSC</text>
<line x1="465.00" y1="517.50" x2="467.00" y2="517.50" stroke="#444" stroke-width="0.70"/>
<text x="461.00" y="518.39" font-family="Liberation Sans" font-size="2.60" font-weight="normal" fill="#666" text-anchor="middle">10</text>
<line x1="470.60" y1="549.80" x2="470.60" y2="547.80" stroke="#444" stroke-width="0.70"/>
<text x="470.60" y="553.49" font-family="Liberation Sans" font-size="2.60" font-weight="normal" fill="#666" text-anchor="middle">10</text>
<line x1="465.00" y1="526.60" x2="467.00" y2="526.60" stroke="#444" stroke-width="0.70"/>
<text x="461.00" y="527.49" font-family="Liberation Sans" font-size="2.60" font-weight="normal" fill="#666" text-anchor="middle">10</text>
<line x1="480.40" y1="549.80" x2="480.40" y2="547.80" stroke="#444" stroke-width="0.70"/>
<text x="480.40" y="553.49" font-family="Liberation Sans" font-size="2.60" font-weight="normal" fill="#666" text-anchor="middle">10</text>
<line x1="465.00" y1="535.70" x2="467.00" y2="535.70" stroke="#444" stroke-width="0.70"/>
<text x="461.00" y="536.59" font-family="Liberation Sans" font-size="2.60" font-weight="normal" fill="#666" text-anchor="middle">10</text>
<line x1="490.20" y1="549.80" x2="490.20" y2="547.80" stroke="#444" stroke-width="0.70"/>
<text x="490.20" y="553.49" font-family="Liberation Sans" font-size="2.60" font-weight="normal" fill="#666" text-anchor="middle">10</text>
<line x1="465.00" y1="544.80" x2="467.00" y2="544.80" stroke="#444" stroke-width="0.70"/>
<text x="461.00" y="545.69" font-family="Liberation Sans" font-size="2.60" font-weight="normal" fill="#666" text-anchor="middle">10</text>
<line x1="500.00" y1="549.80" x2="500.00" y2="547.80" stroke="#444" stroke-width="0.70"/>
<text x="500.00" y="553.49" font-family="Liberation Sans" font-size="2.60" font-weight="normal" fill="#666" text-anchor="middle">10</text>
<text x="227.60" y="487.25" font-family="Liberation Sans" font-size="8.00" font-weight="bold" font-style="italic" stroke="#000" stroke-width="0.15" fill="#000" text-anchor="start">huRBC</text>
<path d="M234.40 502.20 L234.70 517.20 L237.40 527.40 Q238.60 528.60 239.80 527.40 L242.50 517.20 L242.80 502.20" stroke="#8a8a8a" stroke-width="0.80" fill="#fff"/>
<path d="M235.40 521.20 L241.80 521.20 Q238.60 529.10 235.40 521.20 Z" stroke="none" stroke-width="0.00" fill="#b0b0b0"/>
<path d="M236.80 525.20 L240.40 525.20 Q238.60 528.90 236.80 525.20 Z" stroke="none" stroke-width="0.00" fill="#707070"/>
<line x1="231.40" y1="502.20" x2="243.30" y2="502.20" stroke="#777" stroke-width="0.90"/>
<line x1="237.00" y1="505.70" x2="240.20" y2="505.70" stroke="#aaa" stroke-width="0.60"/>
<line x1="237.00" y1="511.90" x2="240.20" y2="511.90" stroke="#aaa" stroke-width="0.60"/>
<line x1="237.00" y1="518.10" x2="240.20" y2="518.10" stroke="#aaa" stroke-width="0.60"/>
<path d="M231.60 502.00 L222.40 496.60 L223.40 495.00 L232.60 500.40 Z" stroke="#888" stroke-width="0.70" fill="#fff"/>
<path d="M264.40 502.20 L264.70 517.20 L267.40 527.40 Q268.60 528.60 269.80 527.40 L272.50 517.20 L272.80 502.20" stroke="#8a8a8a" stroke-width="0.80" fill="#fff"/>
<path d="M265.40 521.20 L271.80 521.20 Q268.60 529.10 265.40 521.20 Z" stroke="none" stroke-width="0.00" fill="#b0b0b0"/>
<path d="M266.80 525.20 L270.40 525.20 Q268.60 528.90 266.80 525.20 Z" stroke="none" stroke-width="0.00" fill="#707070"/>
<line x1="261.40" y1="502.20" x2="273.30" y2="502.20" stroke="#777" stroke-width="0.90"/>
<line x1="267.00" y1="505.70" x2="270.20" y2="505.70" stroke="#aaa" stroke-width="0.60"/>
<line x1="267.00" y1="511.90" x2="270.20" y2="511.90" stroke="#aaa" stroke-width="0.60"/>
<line x1="267.00" y1="518.10" x2="270.20" y2="518.10" stroke="#aaa" stroke-width="0.60"/>
<path d="M261.60 502.00 L252.40 496.60 L253.40 495.00 L262.60 500.40 Z" stroke="#888" stroke-width="0.70" fill="#fff"/>
<path d="M295.50 502.20 L295.80 517.20 L298.50 527.40 Q299.70 528.60 300.90 527.40 L303.60 517.20 L303.90 502.20" stroke="#8a8a8a" stroke-width="0.80" fill="#fff"/>
<path d="M296.50 521.20 L302.90 521.20 Q299.70 529.10 296.50 521.20 Z" stroke="none" stroke-width="0.00" fill="#b0b0b0"/>
<path d="M297.90 525.20 L301.50 525.20 Q299.70 528.90 297.90 525.20 Z" stroke="none" stroke-width="0.00" fill="#707070"/>
<line x1="292.50" y1="502.20" x2="304.40" y2="502.20" stroke="#777" stroke-width="0.90"/>
<line x1="298.10" y1="505.70" x2="301.30" y2="505.70" stroke="#aaa" stroke-width="0.60"/>
<line x1="298.10" y1="511.90" x2="301.30" y2="511.90" stroke="#aaa" stroke-width="0.60"/>
<line x1="298.10" y1="518.10" x2="301.30" y2="518.10" stroke="#aaa" stroke-width="0.60"/>
<path d="M292.70 502.00 L283.50 496.60 L284.50 495.00 L293.70 500.40 Z" stroke="#888" stroke-width="0.70" fill="#fff"/>
<path d="M326.80 502.20 L327.10 517.20 L329.80 527.40 Q331.00 528.60 332.20 527.40 L334.90 517.20 L335.20 502.20" stroke="#8a8a8a" stroke-width="0.80" fill="#fff"/>
<path d="M327.80 521.20 L334.20 521.20 Q331.00 529.10 327.80 521.20 Z" stroke="none" stroke-width="0.00" fill="#b0b0b0"/>
<path d="M329.20 525.20 L332.80 525.20 Q331.00 528.90 329.20 525.20 Z" stroke="none" stroke-width="0.00" fill="#707070"/>
<line x1="323.80" y1="502.20" x2="335.70" y2="502.20" stroke="#777" stroke-width="0.90"/>
<line x1="329.40" y1="505.70" x2="332.60" y2="505.70" stroke="#aaa" stroke-width="0.60"/>
<line x1="329.40" y1="511.90" x2="332.60" y2="511.90" stroke="#aaa" stroke-width="0.60"/>
<line x1="329.40" y1="518.10" x2="332.60" y2="518.10" stroke="#aaa" stroke-width="0.60"/>
<path d="M324.00 502.00 L314.80 496.60 L315.80 495.00 L325.00 500.40 Z" stroke="#888" stroke-width="0.70" fill="#fff"/>
<path d="M238.8 499.3 V489.6 H281.5 V492.4" stroke="#111" stroke-width="1.20" fill="none"/>
<path d="M264.5 499.3 V492.4 H300.3 V498.5" stroke="#111" stroke-width="1.20" fill="none"/>
<text x="244.00" y="517.25" font-family="Liberation Sans" font-size="5.95" font-weight="bold" stroke="#000" stroke-width="0.15" fill="#000" text-anchor="start">CD47+</text>
<text x="275.40" y="514.80" font-family="Liberation Sans" font-size="6.10" font-weight="bold" stroke="#000" stroke-width="0.15" fill="#000" text-anchor="start">CD47-</text>
<text x="275.60" y="521.30" font-family="Liberation Sans" font-size="6.10" font-weight="bold" stroke="#000" stroke-width="0.15" fill="#000" text-anchor="start">Block</text>
<path d="M308.4 511.2 H314.2 V508.9 L319.4 514.3 L314.2 519.7 V517.2 H308.4 Z" stroke="none" stroke-width="0.00" fill="#000"/>
<text x="236.60" y="535.90" font-family="Liberation Sans" font-size="6.10" font-weight="normal" fill="#222" text-anchor="start">&#8226; Rigidification</text>
<text x="236.60" y="542.90" font-family="Liberation Sans" font-size="6.10" font-weight="normal" fill="#222" text-anchor="start">&#8226; Opsonization</text>
<text x="330.60" y="536.47" font-family="Liberation Sans" font-size="6.30" font-weight="bold" stroke="#000" stroke-width="0.15" fill="#000" text-anchor="middle">1:1</text>
<text x="330.60" y="542.70" font-family="Liberation Sans" font-size="6.10" font-weight="bold" stroke="#000" stroke-width="0.15" fill="#000" text-anchor="middle">Mix</text>
<path d="M327.5 545.2 H333.4 V548.4 H335.5 L330.45 552.2 L325.4 548.4 H327.5 Z" stroke="none" stroke-width="0.00" fill="#000"/>
<text x="222.50" y="554.12" font-family="Liberation Sans" font-size="8.20" font-weight="bold" font-style="italic" stroke="#000" stroke-width="0.15" fill="#000" text-anchor="start">NSG</text>
<text x="222.50" y="564.12" font-family="Liberation Sans" font-size="8.20" font-weight="bold" font-style="italic" stroke="#000" stroke-width="0.15" fill="#000" text-anchor="start">Mouse</text>
<text x="255.00" y="564.17" font-family="Liberation Sans" font-size="6.30" font-weight="bold" font-style="italic" stroke="#222" stroke-width="0.15" fill="#222" text-anchor="start">t =15 min</text>
<text x="255.00" y="571.47" font-family="Liberation Sans" font-size="6.30" font-weight="bold" font-style="italic" stroke="#222" stroke-width="0.15" fill="#222" text-anchor="start">Isolate spleen</text>
<text x="324.40" y="563.97" font-family="Liberation Sans" font-size="6.30" font-weight="bold" font-style="italic" stroke="#222" stroke-width="0.15" fill="#222" text-anchor="middle">t = 0</text>
<text x="326.70" y="571.37" font-family="Liberation Sans" font-size="6.30" font-weight="bold" font-style="italic" stroke="#222" stroke-width="0.15" fill="#222" text-anchor="middle">Inject</text>
<path d="M226.70 594.40 C225.95 592.27 227.95 591.41 229.50 588.50 C231.05 585.59 230.95 586.09 232.50 583.50 C234.05 580.91 234.82 581.47 235.30 578.80 C235.78 576.13 233.98 575.77 234.30 573.50 C234.62 571.23 235.03 571.18 236.50 570.30 C237.97 569.42 238.39 569.48 239.80 570.20 C241.21 570.92 241.08 571.59 241.80 573.00 C242.52 574.41 240.58 574.91 242.50 575.50 C244.42 576.09 245.27 575.71 249.00 575.20 C252.73 574.69 252.50 574.13 256.50 573.60 C260.50 573.07 259.87 573.09 264.00 573.20 C268.13 573.31 267.87 572.99 272.00 574.00 C276.13 575.01 276.43 575.27 279.50 577.00 C282.57 578.73 281.63 577.83 283.50 580.50 C285.37 583.17 284.90 583.80 286.50 587.00 C288.10 590.20 287.77 590.10 289.50 592.50 C291.23 594.90 290.47 594.72 293.00 596.00 C295.53 597.28 294.47 596.63 299.00 597.30 C303.53 597.97 304.40 597.73 310.00 598.50 C315.60 599.27 311.73 598.12 320.00 600.20 C328.27 602.28 341.00 605.77 341.00 606.30 C341.00 606.83 329.60 603.56 320.00 602.20 C310.40 600.84 312.39 601.84 305.00 601.20 C297.61 600.56 298.17 600.04 292.30 599.80 C286.43 599.56 286.81 599.29 283.00 600.30 C279.19 601.31 280.53 601.76 278.00 603.60 C275.47 605.44 275.90 606.51 273.50 607.20 C271.10 607.89 270.79 606.79 269.00 606.20 C267.21 605.61 266.53 605.80 266.80 605.00 C267.07 604.20 270.21 604.40 270.00 603.20 C269.79 602.00 268.93 601.19 266.00 600.50 C263.07 599.81 262.20 600.07 259.00 600.60 C255.80 601.13 256.27 601.11 254.00 602.50 C251.73 603.89 252.63 604.97 250.50 605.80 C248.37 606.63 247.57 605.81 246.00 605.60 C244.43 605.39 243.93 605.88 244.60 605.00 C245.27 604.12 247.99 603.74 248.50 602.30 C249.01 600.86 248.77 600.75 246.50 599.60 C244.23 598.45 243.79 598.83 240.00 598.00 C236.21 597.17 235.85 597.46 232.30 596.50 C228.75 595.54 227.45 596.53 226.70 594.40 Z" stroke="#1a1a1a" stroke-width="0.85" fill="#fff"/>
<circle cx="233.60" cy="590.00" r="0.90" fill="#000" stroke="none" stroke-width="1.00"/>
<path d="M227.5 592.5 L222 585.2 M227.2 593 L221 588.8 M227.3 593.5 L221.5 591.5 M228.5 595 L230.5 602 M229.5 595 L233.5 602.3 M230.5 595 L235.8 601.2" stroke="#222" stroke-width="0.70" fill="none"/>
<rect x="261.80" y="582.30" width="10.00" height="11.90" fill="none" stroke="#222" stroke-width="1.20"/>
<path d="M264.3 592.2 C264.6 589 266.2 586 269.2 584.2 C269.6 587 269.0 590.5 268.2 592.2 Z" stroke="none" stroke-width="0.00" fill="#555"/>
<line x1="322.40" y1="594.80" x2="319.80" y2="602.80" stroke="#111" stroke-width="1.50"/>
<path d="M324.73 582.77 L328.67 584.23 L324.57 595.23 L320.63 593.77 Z" stroke="#111" stroke-width="0.90" fill="#fff"/>
<path d="M322.4 592.3 L325.3 593.4 L324.6 595.2 L321.7 594.1 Z" stroke="none" stroke-width="0.00" fill="#666"/>
<line x1="323.30" y1="581.90" x2="330.10" y2="584.40" stroke="#111" stroke-width="1.60"/>
<path d="M326.6 582.5 L328.6 577.3 M328.1 583.0 L330.0 578.0" stroke="#111" stroke-width="0.80" fill="none"/>
<circle cx="329.60" cy="575.70" r="2.10" fill="#fff" stroke="#111" stroke-width="1.00"/>
<text x="251.20" y="613.70" font-family="Liberation Sans" font-size="6.10" font-weight="normal" fill="#222" text-anchor="start">&#8226; Whole Organ Imaging</text>
<text x="251.20" y="620.70" font-family="Liberation Sans" font-size="6.10" font-weight="normal" fill="#222" text-anchor="start">&#8226; Flow Cytometry</text>
</svg>
</body></html>
